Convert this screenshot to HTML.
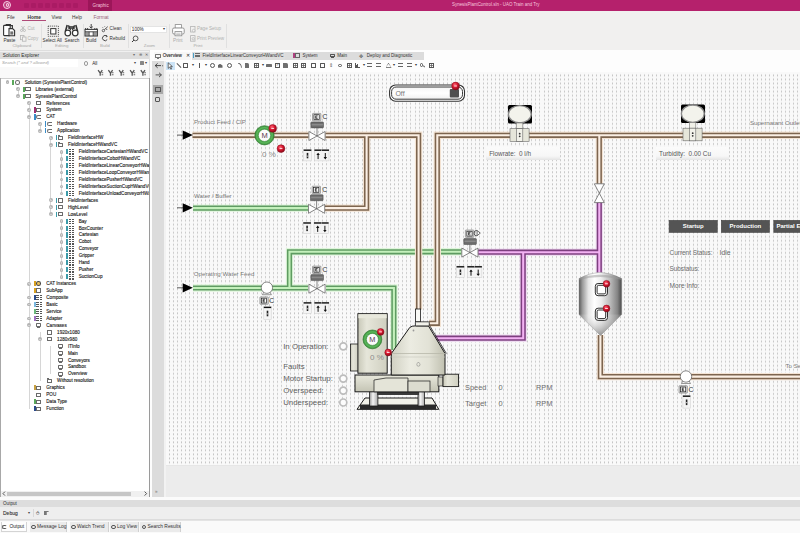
<!DOCTYPE html><html><head><meta charset="utf-8"><style>
*{margin:0;padding:0;box-sizing:border-box}
html,body{width:800px;height:533px;overflow:hidden;background:#f0f0f0;font-family:"Liberation Sans", sans-serif;position:relative}
</style></head><body><div style="position:absolute;left:0px;top:0px;width:800px;height:10.6px;background:#b5216c"></div>
<div style="position:absolute;left:88px;top:0px;width:24px;height:10.6px;background:#9c1659"></div>
<div style="position:absolute;left:92.6px;top:0.8px;height:9.2px;line-height:9.2px;font-size:4.6px;color:#f6c6de;white-space:pre;">Graphic</div>
<div style="position:absolute;left:452px;top:1.15px;height:8.9px;line-height:8.9px;font-size:4.45px;color:#f6c8df;white-space:pre;">SynesisPlantControl.sln - UAO Train and Try</div>
<div style="position:absolute;left:3px;top:0.8px;width:8.4px;height:8.4px;border-radius:50%;border:1.2px solid #f5d0e4;background:#c0407f"></div>
<div style="position:absolute;left:5.6px;top:3.2px;width:3.2px;height:3.6px;border-radius:50%;border:1px solid #f5d0e4"></div>
<div style="position:absolute;left:24px;top:2.8px;width:5px;height:5px;background:rgba(110,0,60,0.16);border-radius:1px"></div>
<div style="position:absolute;left:31px;top:2.8px;width:5px;height:5px;background:rgba(110,0,60,0.16);border-radius:1px"></div>
<div style="position:absolute;left:38px;top:2.8px;width:5px;height:5px;background:rgba(110,0,60,0.16);border-radius:1px"></div>
<div style="position:absolute;left:45px;top:2.8px;width:5px;height:5px;background:rgba(110,0,60,0.16);border-radius:1px"></div>
<div style="position:absolute;left:52px;top:2.8px;width:5px;height:5px;background:rgba(110,0,60,0.16);border-radius:1px"></div>
<div style="position:absolute;left:59px;top:2.8px;width:5px;height:5px;background:rgba(110,0,60,0.16);border-radius:1px"></div>
<div style="position:absolute;left:66px;top:2.8px;width:5px;height:5px;background:rgba(110,0,60,0.16);border-radius:1px"></div>
<div style="position:absolute;left:73px;top:2.8px;width:5px;height:5px;background:rgba(110,0,60,0.16);border-radius:1px"></div>
<div style="position:absolute;left:0px;top:10.6px;width:800px;height:0.8px;background:#f3d2e2"></div>
<div style="position:absolute;left:0px;top:11px;width:800px;height:39px;background:#f1f0ef"></div>
<div style="position:absolute;left:7px;top:12.6px;height:9.6px;line-height:9.6px;font-size:4.8px;color:#333;white-space:pre;">File</div>
<div style="position:absolute;left:27.5px;top:12.6px;height:9.6px;line-height:9.6px;font-size:4.8px;color:#333;white-space:pre;font-weight:bold;">Home</div>
<div style="position:absolute;left:51.5px;top:12.6px;height:9.6px;line-height:9.6px;font-size:4.8px;color:#333;white-space:pre;">View</div>
<div style="position:absolute;left:72px;top:12.6px;height:9.6px;line-height:9.6px;font-size:4.8px;color:#333;white-space:pre;">Help</div>
<div style="position:absolute;left:93.5px;top:12.6px;height:9.6px;line-height:9.6px;font-size:4.8px;color:#98607a;white-space:pre;">Format</div>
<div style="position:absolute;left:22px;top:20.3px;width:23.5px;height:0.9px;background:#b04a78"></div>
<div style="position:absolute;left:40.6px;top:23.5px;width:0.6px;height:24.5px;background:#e0e0e0"></div>
<div style="position:absolute;left:82.5px;top:23.5px;width:0.6px;height:24.5px;background:#e0e0e0"></div>
<div style="position:absolute;left:127.5px;top:23.5px;width:0.6px;height:24.5px;background:#e0e0e0"></div>
<div style="position:absolute;left:169px;top:23.5px;width:0.6px;height:24.5px;background:#e0e0e0"></div>
<div style="position:absolute;left:226px;top:23.5px;width:0.6px;height:24.5px;background:#e0e0e0"></div>
<div style="position:absolute;left:12.4px;top:42.3px;height:8.8px;line-height:8.8px;font-size:4.4px;color:#a8a8a8;white-space:pre;">Clipboard</div>
<div style="position:absolute;left:55px;top:42.3px;height:8.8px;line-height:8.8px;font-size:4.4px;color:#a8a8a8;white-space:pre;">Editing</div>
<div style="position:absolute;left:100px;top:42.3px;height:8.8px;line-height:8.8px;font-size:4.4px;color:#a8a8a8;white-space:pre;">Build</div>
<div style="position:absolute;left:143.8px;top:42.3px;height:8.8px;line-height:8.8px;font-size:4.4px;color:#a8a8a8;white-space:pre;">Zoom</div>
<div style="position:absolute;left:193.4px;top:42.3px;height:8.8px;line-height:8.8px;font-size:4.4px;color:#a8a8a8;white-space:pre;">Print</div>
<div style="position:absolute;left:3.4px;top:35.7px;height:9.4px;line-height:9.4px;font-size:4.7px;color:#333;white-space:pre;">Paste</div>
<div style="position:absolute;left:42.6px;top:35.7px;height:9.4px;line-height:9.4px;font-size:4.7px;color:#333;white-space:pre;">Select All</div>
<div style="position:absolute;left:64.6px;top:35.7px;height:9.4px;line-height:9.4px;font-size:4.7px;color:#333;white-space:pre;">Search</div>
<div style="position:absolute;left:86px;top:35.7px;height:9.4px;line-height:9.4px;font-size:4.7px;color:#333;white-space:pre;">Build</div>
<div style="position:absolute;left:173px;top:35.7px;height:9.4px;line-height:9.4px;font-size:4.7px;color:#aaa;white-space:pre;">Print</div>
<div style="position:absolute;left:27.5px;top:24.4px;height:9.2px;line-height:9.2px;font-size:4.6px;color:#b0b0b0;white-space:pre;">Cut</div>
<div style="position:absolute;left:27.5px;top:34px;height:9.2px;line-height:9.2px;font-size:4.6px;color:#b0b0b0;white-space:pre;">Copy</div>
<div style="position:absolute;left:109.6px;top:24.4px;height:9.2px;line-height:9.2px;font-size:4.6px;color:#333;white-space:pre;">Clean</div>
<div style="position:absolute;left:109.6px;top:33.7px;height:9.2px;line-height:9.2px;font-size:4.6px;color:#333;white-space:pre;">Rebuild</div>
<div style="position:absolute;left:197px;top:24.4px;height:9.2px;line-height:9.2px;font-size:4.6px;color:#b0b0b0;white-space:pre;">Page Setup</div>
<div style="position:absolute;left:197px;top:33.7px;height:9.2px;line-height:9.2px;font-size:4.6px;color:#b0b0b0;white-space:pre;">Print Preview</div>
<div style="position:absolute;left:130px;top:26px;width:36.5px;height:6.6px;background:#fff;border:0.5px solid #e4e4e4"></div>
<div style="position:absolute;left:131.8px;top:24.6px;height:9.4px;line-height:9.4px;font-size:4.7px;color:#222;white-space:pre;">100%</div>
<div style="position:absolute;left:162.5px;top:24.9px;height:8.8px;line-height:8.8px;font-size:4.4px;color:#333;white-space:pre;">▾</div>
<div style="position:absolute;left:0px;top:49.5px;width:800px;height:1px;background:#dedede"></div>
<svg style="position:absolute;left:0;top:0" width="230" height="50"><path d="M4.2,25.6 h2 v-1 h4.2 v1 h2 v3" fill="none" stroke="#333" stroke-width="1.1"/><rect x="3.6" y="25.4" width="6.6" height="10.2" rx="0.8" fill="#fff" stroke="#333" stroke-width="1.1"/><rect x="6.6" y="24" width="3.4" height="1.8" rx="0.5" fill="#333"/><path d="M9,28.6 h3.6 l2,2 v5.2 h-5.6 z" fill="#fff" stroke="#333" stroke-width="1.1"/><rect x="10.3" y="31.4" width="3" height="3.2" fill="#333" opacity="0.7"/><circle cx="21.6" cy="30.4" r="1.1" fill="none" stroke="#b4b4b4" stroke-width="0.8"/><circle cx="24.4" cy="30.4" r="1.1" fill="none" stroke="#b4b4b4" stroke-width="0.8"/><path d="M21.8,29.3 L24.6,26 M24.2,29.3 L21.4,26" stroke="#b4b4b4" stroke-width="0.8"/><rect x="20.4" y="35.5" width="3.6" height="4.2" fill="none" stroke="#b4b4b4" stroke-width="0.8"/><rect x="22.4" y="37" width="3.6" height="4.2" fill="#f3f2f1" stroke="#b4b4b4" stroke-width="0.8"/><rect x="48.2" y="26.1" width="10.2" height="10.2" fill="none" stroke="#333" stroke-width="0.9" stroke-dasharray="1 1"/><rect x="50.7" y="28.6" width="5.2" height="5.4" fill="#fff" stroke="#333" stroke-width="1"/><path d="M67.2,25 L65.4,31.5 M75.8,25 L77.6,31.5" stroke="#333" stroke-width="1.6"/><path d="M68.5,25.2 L70.6,30 M74.5,25.2 L72.4,30" stroke="#333" stroke-width="1.2"/><circle cx="67.8" cy="33" r="2.8" fill="#fff" stroke="#333" stroke-width="1.2"/><circle cx="75.2" cy="33" r="2.8" fill="#fff" stroke="#333" stroke-width="1.2"/><rect x="68.2" y="26" width="6.6" height="3" fill="#333" opacity="0.8"/><path d="M91.2,24 v4 M89.6,26.6 l1.6,1.6 l1.6,-1.6" fill="none" stroke="#333" stroke-width="0.9"/><rect x="85" y="29.4" width="12.4" height="6.6" fill="#fff" stroke="#333" stroke-width="1"/><path d="M85,31.8 h12.4 M89.1,31.8 v4.2 M93.2,31.8 v4.2" stroke="#333" stroke-width="0.9"/><path d="M85.6,29.4 v-1.4 M87.6,29.4 v-1.4 M94.8,29.4 v-1.4 M96.8,29.4 v-1.4" stroke="#333" stroke-width="0.9"/><rect x="85.4" y="32.2" width="3.3" height="3.4" fill="#333" opacity="0.5"/><rect x="93.6" y="32.2" width="3.3" height="3.4" fill="#333" opacity="0.5"/><circle cx="103.4" cy="30.6" r="1.2" fill="none" stroke="#333" stroke-width="0.7"/><path d="M104.3,29.8 L107.8,26.6 M106,28.6 l1.2,1.4" stroke="#333" stroke-width="0.8"/><path d="M102.4,28 l0.6,-0.9 M104.6,27 l0.3,-0.9" stroke="#333" stroke-width="0.5"/><path d="M106.9,36.2 A2.6,2.6 0 1 0 107.2,39.6" fill="none" stroke="#333" stroke-width="0.9"/><path d="M106,35.2 l1.4,1.2 l-1.6,0.6" fill="none" stroke="#333" stroke-width="0.7"/><circle cx="135.6" cy="38.4" r="2.4" fill="none" stroke="#333" stroke-width="0.8"/><path d="M133.9,40.1 L132,42" stroke="#333" stroke-width="1"/><rect x="175.2" y="24.6" width="6.4" height="3.6" fill="#fff" stroke="#8a8a8a" stroke-width="0.8"/><rect x="172.6" y="28" width="11.6" height="6" rx="1.4" fill="#fff" stroke="#8a8a8a" stroke-width="0.9"/><rect x="175" y="31.6" width="6.8" height="4.2" fill="#fff" stroke="#8a8a8a" stroke-width="0.8"/><path d="M176.2,33.2 h4.4 M176.2,34.5 h4.4" stroke="#8a8a8a" stroke-width="0.5"/><rect x="190.6" y="26.4" width="4.4" height="5.6" fill="none" stroke="#b4b4b4" stroke-width="0.8"/><circle cx="193.6" cy="30.6" r="1.3" fill="#f3f2f1" stroke="#b4b4b4" stroke-width="0.7"/><rect x="190.6" y="35.6" width="4.4" height="5.6" fill="none" stroke="#b4b4b4" stroke-width="0.8"/><circle cx="193.2" cy="38.8" r="1.2" fill="#f3f2f1" stroke="#b4b4b4" stroke-width="0.7"/></svg>
<div style="position:absolute;left:0px;top:51px;width:150px;height:447px;background:#f0f0f0"></div>
<div style="position:absolute;left:0px;top:51.6px;width:149px;height:7px;background:#dddddd"></div>
<div style="position:absolute;left:0px;top:58.6px;width:149px;height:19px;background:#f9f9f9"></div>
<div style="position:absolute;left:2.8px;top:50.65px;height:9.5px;line-height:9.5px;font-size:4.75px;color:#2a2a2a;white-space:pre;">Solution Explorer</div>
<div style="position:absolute;left:132.5px;top:51.4px;height:8.4px;line-height:8.4px;font-size:4.2px;color:#6a6a6a;white-space:pre;">▾</div>
<div style="position:absolute;left:138.6px;top:51.2px;height:8.8px;line-height:8.8px;font-size:4.4px;color:#666;white-space:pre;">⊕</div>
<div style="position:absolute;left:144.6px;top:51.4px;height:8.4px;line-height:8.4px;font-size:4.2px;color:#555;white-space:pre;">✕</div>
<div style="position:absolute;left:0px;top:59.3px;width:78px;height:7.6px;background:#fff"></div>
<div style="position:absolute;left:2px;top:58.8px;height:8.6px;line-height:8.6px;font-size:4.3px;color:#a0a0a0;white-space:pre;font-style:italic">Search (* and ? allowed)</div>
<div style="position:absolute;left:83.8px;top:61px;width:4.5px;height:4.5px;border:0.7px solid #999;border-radius:50%"></div>
<div style="position:absolute;left:92.2px;top:58.5px;height:9.2px;line-height:9.2px;font-size:4.6px;color:#222;white-space:pre;">All</div>
<div style="position:absolute;left:133.5px;top:58.9px;height:8.4px;line-height:8.4px;font-size:4.2px;color:#444;white-space:pre;">▾</div>
<div style="position:absolute;left:139.5px;top:60.8px;width:4px;height:4.6px;background:#888;border-radius:0.6px"></div>
<div style="position:absolute;left:145px;top:59.6px;height:7px;line-height:7px;font-size:3.5px;color:#444;white-space:pre;">▾</div>
<svg style="position:absolute;left:0;top:0" width="150" height="80"><path d="M98.1,70.2 L100.2,73.2 L102.3,70.2 M100.2,73 L100.2,75.8" fill="none" stroke="#555" stroke-width="1.3"/><path d="M101.6,72.2 l1.6,0 l0,1 l-1.6,0 z M101.6,74.2 l1.6,0 l0,1 l-1.6,0 z" fill="#666"/><path d="M108.4,70.2 L110.5,73.2 L112.6,70.2 M110.5,73 L110.5,75.8" fill="none" stroke="#555" stroke-width="1.3"/><path d="M111.9,72.2 l1.6,0 l0,1 l-1.6,0 z M111.9,74.2 l1.6,0 l0,1 l-1.6,0 z" fill="#666"/><path d="M119.1,70.2 L121.2,73.2 L123.3,70.2 M121.2,73 L121.2,75.8" fill="none" stroke="#555" stroke-width="1.3"/><path d="M122.6,72.2 l1.6,0 l0,1 l-1.6,0 z M122.6,74.2 l1.6,0 l0,1 l-1.6,0 z" fill="#666"/><path d="M130.1,70.2 L132.2,73.2 L134.3,70.2 M132.2,73 L132.2,75.8" fill="none" stroke="#555" stroke-width="1.3"/><path d="M133.6,72.2 l1.6,0 l0,1 l-1.6,0 z M133.6,74.2 l1.6,0 l0,1 l-1.6,0 z" fill="#666"/><path d="M140.8,70.2 L142.9,73.2 L145.0,70.2 M142.9,73 L142.9,75.8" fill="none" stroke="#555" stroke-width="1.3"/><path d="M144.3,72.2 l1.6,0 l0,1 l-1.6,0 z M144.3,74.2 l1.6,0 l0,1 l-1.6,0 z" fill="#666"/></svg>
<div style="position:absolute;left:0px;top:77.5px;width:149px;height:414px;background:#fff;border-top:0.6px solid #d0d0d0"></div>
<div style="position:absolute;left:0px;top:491px;width:149px;height:6px;background:#f0f0f0"></div>
<div style="position:absolute;left:7.2px;top:491.8px;width:123.5px;height:4.3px;background:#c6c6c6"></div>
<svg style="position:absolute;left:0;top:488px" width="150" height="10"><path d="M5,3.6 L3,5.6 L5,7.6" fill="none" stroke="#444" stroke-width="0.9"/><path d="M144.6,3.6 L146.6,5.6 L144.6,7.6" fill="none" stroke="#444" stroke-width="0.9"/></svg>
<div style="position:absolute;left:0;top:78px;width:148.6px;height:413px;overflow:hidden">
<div style="position:absolute;left:18px;top:11.25px;width:0.7px;height:6.94px;background:#d6d6d6"></div>
<div style="position:absolute;left:28.8px;top:25.13px;width:0.7px;height:305.58px;background:#d6d6d6"></div>
<div style="position:absolute;left:39.6px;top:45.97px;width:0.7px;height:6.94px;background:#d6d6d6"></div>
<div style="position:absolute;left:50.4px;top:59.86px;width:0.7px;height:76.39px;background:#d6d6d6"></div>
<div style="position:absolute;left:61.2px;top:73.75px;width:0.7px;height:41.67px;background:#d6d6d6"></div>
<div style="position:absolute;left:61.2px;top:143.2px;width:0.7px;height:55.56px;background:#d6d6d6"></div>
<div style="position:absolute;left:39.6px;top:254.32px;width:0.7px;height:48.62px;background:#d6d6d6"></div>
<div style="position:absolute;left:50.4px;top:268.21px;width:0.7px;height:27.78px;background:#d6d6d6"></div>
<div style="position:absolute;left:5.6px;top:2.4px;width:3.8px;height:3.8px;border-radius:50%;background:#b4b4b4"></div>
<div style="position:absolute;left:6.6px;top:4.08px;width:1.8px;height:0.44px;background:#d0d0d0"></div>
<div style="position:absolute;left:12.3px;top:1.7px;width:1.7px;height:5.2px;background:#5aa85a"></div>
<div style="position:absolute;left:14.6px;top:1.9px;width:5.2px;height:4.8px;border:1.3px solid #666;border-radius:50%"></div>
<div style="position:absolute;left:24.7px;top:-0.3px;height:9.2px;line-height:9.2px;font-size:4.6px;color:#1a1a1a;white-space:pre;-webkit-text-stroke:0.12px #1a1a1a">Solution (SynesisPlantControl)</div>
<div style="position:absolute;left:16.4px;top:9.34px;width:3.8px;height:3.8px;border-radius:50%;background:#b4b4b4"></div>
<div style="position:absolute;left:17.4px;top:11.03px;width:1.8px;height:0.44px;background:#d0d0d0"></div>
<div style="position:absolute;left:18.08px;top:10.34px;width:0.44px;height:1.8px;background:#d0d0d0"></div>
<div style="position:absolute;left:23.1px;top:8.65px;width:1.7px;height:5.2px;background:#5aa85a"></div>
<div style="position:absolute;left:25.4px;top:9.25px;width:5.2px;height:4.2px;border:0.7px solid #6a6a6a;border-radius:0.5px;background:#fff"></div>
<div style="position:absolute;left:25.4px;top:8.65px;width:2.4px;height:1px;border:0.6px solid #6a6a6a;border-bottom:none"></div>
<div style="position:absolute;left:35.5px;top:6.65px;height:9.2px;line-height:9.2px;font-size:4.6px;color:#1a1a1a;white-space:pre;-webkit-text-stroke:0.12px #1a1a1a">Libraries (external)</div>
<div style="position:absolute;left:16.4px;top:16.29px;width:3.8px;height:3.8px;border-radius:50%;background:#b4b4b4"></div>
<div style="position:absolute;left:17.4px;top:17.97px;width:1.8px;height:0.44px;background:#d0d0d0"></div>
<div style="position:absolute;left:23.1px;top:15.59px;width:1.7px;height:5.2px;background:#5aa85a"></div>
<div style="position:absolute;left:25.4px;top:16.19px;width:5.2px;height:4.2px;border:0.7px solid #6a6a6a;border-radius:0.5px;background:#fff"></div>
<div style="position:absolute;left:25.4px;top:15.59px;width:2.4px;height:1px;border:0.6px solid #6a6a6a;border-bottom:none"></div>
<div style="position:absolute;left:35.5px;top:13.59px;height:9.2px;line-height:9.2px;font-size:4.6px;color:#1a1a1a;white-space:pre;-webkit-text-stroke:0.12px #1a1a1a">SynesisPlantControl</div>
<div style="position:absolute;left:27.2px;top:23.23px;width:3.8px;height:3.8px;border-radius:50%;background:#b4b4b4"></div>
<div style="position:absolute;left:28.2px;top:24.91px;width:1.8px;height:0.44px;background:#d0d0d0"></div>
<div style="position:absolute;left:28.88px;top:24.23px;width:0.44px;height:1.8px;background:#d0d0d0"></div>
<div style="position:absolute;left:36.2px;top:22.93px;width:5px;height:4.4px;border:0.7px solid #6a6a6a"></div>
<div style="position:absolute;left:46.3px;top:20.53px;height:9.2px;line-height:9.2px;font-size:4.6px;color:#1a1a1a;white-space:pre;-webkit-text-stroke:0.12px #1a1a1a">References</div>
<div style="position:absolute;left:27.2px;top:30.18px;width:3.8px;height:3.8px;border-radius:50%;background:#b4b4b4"></div>
<div style="position:absolute;left:28.2px;top:31.86px;width:1.8px;height:0.44px;background:#d0d0d0"></div>
<div style="position:absolute;left:28.88px;top:31.18px;width:0.44px;height:1.8px;background:#d0d0d0"></div>
<div style="position:absolute;left:33.9px;top:29.48px;width:1.7px;height:5.2px;background:#a03070"></div>
<div style="position:absolute;left:36.2px;top:29.88px;width:5px;height:4.4px;border:0.7px solid #6a6a6a"></div>
<div style="position:absolute;left:46.3px;top:27.48px;height:9.2px;line-height:9.2px;font-size:4.6px;color:#1a1a1a;white-space:pre;-webkit-text-stroke:0.12px #1a1a1a">System</div>
<div style="position:absolute;left:27.2px;top:37.12px;width:3.8px;height:3.8px;border-radius:50%;background:#b4b4b4"></div>
<div style="position:absolute;left:28.2px;top:38.81px;width:1.8px;height:0.44px;background:#d0d0d0"></div>
<div style="position:absolute;left:33.9px;top:36.43px;width:1.7px;height:5.2px;background:#3a8cc8"></div>
<div style="position:absolute;left:36.2px;top:36.62px;width:5px;height:4.8px;border:0.8px solid #6a6a6a;border-radius:50% 0 0 50%;border-right:none"></div>
<div style="position:absolute;left:46.3px;top:34.43px;height:9.2px;line-height:9.2px;font-size:4.6px;color:#1a1a1a;white-space:pre;-webkit-text-stroke:0.12px #1a1a1a">CAT</div>
<div style="position:absolute;left:38px;top:44.07px;width:3.8px;height:3.8px;border-radius:50%;background:#b4b4b4"></div>
<div style="position:absolute;left:39px;top:45.75px;width:1.8px;height:0.44px;background:#d0d0d0"></div>
<div style="position:absolute;left:39.68px;top:45.07px;width:0.44px;height:1.8px;background:#d0d0d0"></div>
<div style="position:absolute;left:44.7px;top:43.37px;width:1.7px;height:5.2px;background:#3a8cc8"></div>
<div style="position:absolute;left:47px;top:43.57px;width:5px;height:4.8px;border:0.8px solid #6a6a6a;border-radius:50% 0 0 50%;border-right:none"></div>
<div style="position:absolute;left:57.1px;top:41.37px;height:9.2px;line-height:9.2px;font-size:4.6px;color:#1a1a1a;white-space:pre;-webkit-text-stroke:0.12px #1a1a1a">Hardware</div>
<div style="position:absolute;left:38px;top:51.01px;width:3.8px;height:3.8px;border-radius:50%;background:#b4b4b4"></div>
<div style="position:absolute;left:39px;top:52.69px;width:1.8px;height:0.44px;background:#d0d0d0"></div>
<div style="position:absolute;left:44.7px;top:50.31px;width:1.7px;height:5.2px;background:#3a8cc8"></div>
<div style="position:absolute;left:47px;top:50.51px;width:5px;height:4.8px;border:0.8px solid #6a6a6a;border-radius:50% 0 0 50%;border-right:none"></div>
<div style="position:absolute;left:57.1px;top:48.31px;height:9.2px;line-height:9.2px;font-size:4.6px;color:#1a1a1a;white-space:pre;-webkit-text-stroke:0.12px #1a1a1a">Application</div>
<div style="position:absolute;left:48.8px;top:57.96px;width:3.8px;height:3.8px;border-radius:50%;background:#b4b4b4"></div>
<div style="position:absolute;left:49.8px;top:59.64px;width:1.8px;height:0.44px;background:#d0d0d0"></div>
<div style="position:absolute;left:50.48px;top:58.96px;width:0.44px;height:1.8px;background:#d0d0d0"></div>
<div style="position:absolute;left:55.5px;top:57.26px;width:1.7px;height:5.2px;background:#3a9aa8"></div>
<div style="position:absolute;left:57.8px;top:57.86px;width:5.2px;height:4.2px;border:0.7px solid #6a6a6a;border-radius:0.5px;background:#fff"></div>
<div style="position:absolute;left:57.8px;top:57.26px;width:2.4px;height:1px;border:0.6px solid #6a6a6a;border-bottom:none"></div>
<div style="position:absolute;left:67.9px;top:55.26px;height:9.2px;line-height:9.2px;font-size:4.6px;color:#1a1a1a;white-space:pre;-webkit-text-stroke:0.12px #1a1a1a">FieldInterfaceHW</div>
<div style="position:absolute;left:48.8px;top:64.91px;width:3.8px;height:3.8px;border-radius:50%;background:#b4b4b4"></div>
<div style="position:absolute;left:49.8px;top:66.59px;width:1.8px;height:0.44px;background:#d0d0d0"></div>
<div style="position:absolute;left:55.5px;top:64.21px;width:1.7px;height:5.2px;background:#3a9aa8"></div>
<div style="position:absolute;left:57.8px;top:64.81px;width:5.2px;height:4.2px;border:0.7px solid #6a6a6a;border-radius:0.5px;background:#fff"></div>
<div style="position:absolute;left:57.8px;top:64.21px;width:2.4px;height:1px;border:0.6px solid #6a6a6a;border-bottom:none"></div>
<div style="position:absolute;left:67.9px;top:62.21px;height:9.2px;line-height:9.2px;font-size:4.6px;color:#1a1a1a;white-space:pre;-webkit-text-stroke:0.12px #1a1a1a">FieldInterfaceHWandVC</div>
<div style="position:absolute;left:59.6px;top:71.85px;width:3.8px;height:3.8px;border-radius:50%;background:#b4b4b4"></div>
<div style="position:absolute;left:60.6px;top:73.53px;width:1.8px;height:0.44px;background:#d0d0d0"></div>
<div style="position:absolute;left:61.28px;top:72.85px;width:0.44px;height:1.8px;background:#d0d0d0"></div>
<div style="position:absolute;left:66.3px;top:71.15px;width:1.7px;height:5.2px;background:#3a9aa8"></div>
<div style="position:absolute;left:68.6px;top:71.15px;width:5.4px;height:5.4px;background:repeating-linear-gradient(#555 0 1.1px,#fff 1.1px 1.8px)"></div>
<div style="position:absolute;left:70.9px;top:71.15px;width:0.6px;height:5.4px;background:#fff"></div>
<div style="position:absolute;left:78.7px;top:69.15px;height:9.2px;line-height:9.2px;font-size:4.6px;color:#1a1a1a;white-space:pre;-webkit-text-stroke:0.12px #1a1a1a">FieldInterfaceCartesianHWandVC</div>
<div style="position:absolute;left:59.6px;top:78.79px;width:3.8px;height:3.8px;border-radius:50%;background:#b4b4b4"></div>
<div style="position:absolute;left:60.6px;top:80.47px;width:1.8px;height:0.44px;background:#d0d0d0"></div>
<div style="position:absolute;left:61.28px;top:79.79px;width:0.44px;height:1.8px;background:#d0d0d0"></div>
<div style="position:absolute;left:66.3px;top:78.09px;width:1.7px;height:5.2px;background:#3a9aa8"></div>
<div style="position:absolute;left:68.6px;top:78.09px;width:5.4px;height:5.4px;background:repeating-linear-gradient(#555 0 1.1px,#fff 1.1px 1.8px)"></div>
<div style="position:absolute;left:70.9px;top:78.09px;width:0.6px;height:5.4px;background:#fff"></div>
<div style="position:absolute;left:78.7px;top:76.09px;height:9.2px;line-height:9.2px;font-size:4.6px;color:#1a1a1a;white-space:pre;-webkit-text-stroke:0.12px #1a1a1a">FieldInterfaceCobotHWandVC</div>
<div style="position:absolute;left:59.6px;top:85.74px;width:3.8px;height:3.8px;border-radius:50%;background:#b4b4b4"></div>
<div style="position:absolute;left:60.6px;top:87.42px;width:1.8px;height:0.44px;background:#d0d0d0"></div>
<div style="position:absolute;left:61.28px;top:86.74px;width:0.44px;height:1.8px;background:#d0d0d0"></div>
<div style="position:absolute;left:66.3px;top:85.04px;width:1.7px;height:5.2px;background:#3a9aa8"></div>
<div style="position:absolute;left:68.6px;top:85.04px;width:5.4px;height:5.4px;background:repeating-linear-gradient(#555 0 1.1px,#fff 1.1px 1.8px)"></div>
<div style="position:absolute;left:70.9px;top:85.04px;width:0.6px;height:5.4px;background:#fff"></div>
<div style="position:absolute;left:78.7px;top:83.04px;height:9.2px;line-height:9.2px;font-size:4.6px;color:#1a1a1a;white-space:pre;-webkit-text-stroke:0.12px #1a1a1a">FieldInterfaceLinearConveyorHWandVC</div>
<div style="position:absolute;left:59.6px;top:92.68px;width:3.8px;height:3.8px;border-radius:50%;background:#b4b4b4"></div>
<div style="position:absolute;left:60.6px;top:94.36px;width:1.8px;height:0.44px;background:#d0d0d0"></div>
<div style="position:absolute;left:61.28px;top:93.68px;width:0.44px;height:1.8px;background:#d0d0d0"></div>
<div style="position:absolute;left:66.3px;top:91.98px;width:1.7px;height:5.2px;background:#3a9aa8"></div>
<div style="position:absolute;left:68.6px;top:91.98px;width:5.4px;height:5.4px;background:repeating-linear-gradient(#555 0 1.1px,#fff 1.1px 1.8px)"></div>
<div style="position:absolute;left:70.9px;top:91.98px;width:0.6px;height:5.4px;background:#fff"></div>
<div style="position:absolute;left:78.7px;top:89.98px;height:9.2px;line-height:9.2px;font-size:4.6px;color:#1a1a1a;white-space:pre;-webkit-text-stroke:0.12px #1a1a1a">FieldInterfaceLoopConveyorHWandVC</div>
<div style="position:absolute;left:59.6px;top:99.63px;width:3.8px;height:3.8px;border-radius:50%;background:#b4b4b4"></div>
<div style="position:absolute;left:60.6px;top:101.31px;width:1.8px;height:0.44px;background:#d0d0d0"></div>
<div style="position:absolute;left:61.28px;top:100.63px;width:0.44px;height:1.8px;background:#d0d0d0"></div>
<div style="position:absolute;left:66.3px;top:98.93px;width:1.7px;height:5.2px;background:#3a9aa8"></div>
<div style="position:absolute;left:68.6px;top:98.93px;width:5.4px;height:5.4px;background:repeating-linear-gradient(#555 0 1.1px,#fff 1.1px 1.8px)"></div>
<div style="position:absolute;left:70.9px;top:98.93px;width:0.6px;height:5.4px;background:#fff"></div>
<div style="position:absolute;left:78.7px;top:96.93px;height:9.2px;line-height:9.2px;font-size:4.6px;color:#1a1a1a;white-space:pre;-webkit-text-stroke:0.12px #1a1a1a">FieldInterfacePusherHWandVC</div>
<div style="position:absolute;left:59.6px;top:106.58px;width:3.8px;height:3.8px;border-radius:50%;background:#b4b4b4"></div>
<div style="position:absolute;left:60.6px;top:108.26px;width:1.8px;height:0.44px;background:#d0d0d0"></div>
<div style="position:absolute;left:61.28px;top:107.58px;width:0.44px;height:1.8px;background:#d0d0d0"></div>
<div style="position:absolute;left:66.3px;top:105.88px;width:1.7px;height:5.2px;background:#3a9aa8"></div>
<div style="position:absolute;left:68.6px;top:105.88px;width:5.4px;height:5.4px;background:repeating-linear-gradient(#555 0 1.1px,#fff 1.1px 1.8px)"></div>
<div style="position:absolute;left:70.9px;top:105.88px;width:0.6px;height:5.4px;background:#fff"></div>
<div style="position:absolute;left:78.7px;top:103.88px;height:9.2px;line-height:9.2px;font-size:4.6px;color:#1a1a1a;white-space:pre;-webkit-text-stroke:0.12px #1a1a1a">FieldInterfaceSuctionCupHWandVC</div>
<div style="position:absolute;left:59.6px;top:113.52px;width:3.8px;height:3.8px;border-radius:50%;background:#b4b4b4"></div>
<div style="position:absolute;left:60.6px;top:115.2px;width:1.8px;height:0.44px;background:#d0d0d0"></div>
<div style="position:absolute;left:61.28px;top:114.52px;width:0.44px;height:1.8px;background:#d0d0d0"></div>
<div style="position:absolute;left:66.3px;top:112.82px;width:1.7px;height:5.2px;background:#3a9aa8"></div>
<div style="position:absolute;left:68.6px;top:112.82px;width:5.4px;height:5.4px;background:repeating-linear-gradient(#555 0 1.1px,#fff 1.1px 1.8px)"></div>
<div style="position:absolute;left:70.9px;top:112.82px;width:0.6px;height:5.4px;background:#fff"></div>
<div style="position:absolute;left:78.7px;top:110.82px;height:9.2px;line-height:9.2px;font-size:4.6px;color:#1a1a1a;white-space:pre;-webkit-text-stroke:0.12px #1a1a1a">FieldInterfaceUnloadConveyorHWandVC</div>
<div style="position:absolute;left:48.8px;top:120.47px;width:3.8px;height:3.8px;border-radius:50%;background:#b4b4b4"></div>
<div style="position:absolute;left:49.8px;top:122.15px;width:1.8px;height:0.44px;background:#d0d0d0"></div>
<div style="position:absolute;left:50.48px;top:121.47px;width:0.44px;height:1.8px;background:#d0d0d0"></div>
<div style="position:absolute;left:55.5px;top:119.77px;width:1.7px;height:5.2px;background:#3a9aa8"></div>
<div style="position:absolute;left:57.8px;top:120.37px;width:5.2px;height:4.2px;border:0.7px solid #6a6a6a;border-radius:0.5px;background:#fff"></div>
<div style="position:absolute;left:57.8px;top:119.77px;width:2.4px;height:1px;border:0.6px solid #6a6a6a;border-bottom:none"></div>
<div style="position:absolute;left:67.9px;top:117.77px;height:9.2px;line-height:9.2px;font-size:4.6px;color:#1a1a1a;white-space:pre;-webkit-text-stroke:0.12px #1a1a1a">FieldInterfaces</div>
<div style="position:absolute;left:48.8px;top:127.41px;width:3.8px;height:3.8px;border-radius:50%;background:#b4b4b4"></div>
<div style="position:absolute;left:49.8px;top:129.09px;width:1.8px;height:0.44px;background:#d0d0d0"></div>
<div style="position:absolute;left:50.48px;top:128.41px;width:0.44px;height:1.8px;background:#d0d0d0"></div>
<div style="position:absolute;left:55.5px;top:126.71px;width:1.7px;height:5.2px;background:#3a9aa8"></div>
<div style="position:absolute;left:57.8px;top:127.31px;width:5.2px;height:4.2px;border:0.7px solid #6a6a6a;border-radius:0.5px;background:#fff"></div>
<div style="position:absolute;left:57.8px;top:126.71px;width:2.4px;height:1px;border:0.6px solid #6a6a6a;border-bottom:none"></div>
<div style="position:absolute;left:67.9px;top:124.71px;height:9.2px;line-height:9.2px;font-size:4.6px;color:#1a1a1a;white-space:pre;-webkit-text-stroke:0.12px #1a1a1a">HighLevel</div>
<div style="position:absolute;left:48.8px;top:134.35px;width:3.8px;height:3.8px;border-radius:50%;background:#b4b4b4"></div>
<div style="position:absolute;left:49.8px;top:136.03px;width:1.8px;height:0.44px;background:#d0d0d0"></div>
<div style="position:absolute;left:55.5px;top:133.66px;width:1.7px;height:5.2px;background:#3a9aa8"></div>
<div style="position:absolute;left:57.8px;top:134.25px;width:5.2px;height:4.2px;border:0.7px solid #6a6a6a;border-radius:0.5px;background:#fff"></div>
<div style="position:absolute;left:57.8px;top:133.66px;width:2.4px;height:1px;border:0.6px solid #6a6a6a;border-bottom:none"></div>
<div style="position:absolute;left:67.9px;top:131.66px;height:9.2px;line-height:9.2px;font-size:4.6px;color:#1a1a1a;white-space:pre;-webkit-text-stroke:0.12px #1a1a1a">LowLevel</div>
<div style="position:absolute;left:59.6px;top:141.3px;width:3.8px;height:3.8px;border-radius:50%;background:#b4b4b4"></div>
<div style="position:absolute;left:60.6px;top:142.98px;width:1.8px;height:0.44px;background:#d0d0d0"></div>
<div style="position:absolute;left:61.28px;top:142.3px;width:0.44px;height:1.8px;background:#d0d0d0"></div>
<div style="position:absolute;left:66.3px;top:140.6px;width:1.7px;height:5.2px;background:#3a9aa8"></div>
<div style="position:absolute;left:68.6px;top:140.6px;width:5.4px;height:5.4px;background:repeating-linear-gradient(#555 0 1.1px,#fff 1.1px 1.8px)"></div>
<div style="position:absolute;left:70.9px;top:140.6px;width:0.6px;height:5.4px;background:#fff"></div>
<div style="position:absolute;left:78.7px;top:138.6px;height:9.2px;line-height:9.2px;font-size:4.6px;color:#1a1a1a;white-space:pre;-webkit-text-stroke:0.12px #1a1a1a">Bay</div>
<div style="position:absolute;left:59.6px;top:148.24px;width:3.8px;height:3.8px;border-radius:50%;background:#b4b4b4"></div>
<div style="position:absolute;left:60.6px;top:149.92px;width:1.8px;height:0.44px;background:#d0d0d0"></div>
<div style="position:absolute;left:61.28px;top:149.24px;width:0.44px;height:1.8px;background:#d0d0d0"></div>
<div style="position:absolute;left:66.3px;top:147.54px;width:1.7px;height:5.2px;background:#3a9aa8"></div>
<div style="position:absolute;left:68.6px;top:147.54px;width:5.4px;height:5.4px;background:repeating-linear-gradient(#555 0 1.1px,#fff 1.1px 1.8px)"></div>
<div style="position:absolute;left:70.9px;top:147.54px;width:0.6px;height:5.4px;background:#fff"></div>
<div style="position:absolute;left:78.7px;top:145.54px;height:9.2px;line-height:9.2px;font-size:4.6px;color:#1a1a1a;white-space:pre;-webkit-text-stroke:0.12px #1a1a1a">BoxCounter</div>
<div style="position:absolute;left:59.6px;top:155.19px;width:3.8px;height:3.8px;border-radius:50%;background:#b4b4b4"></div>
<div style="position:absolute;left:60.6px;top:156.87px;width:1.8px;height:0.44px;background:#d0d0d0"></div>
<div style="position:absolute;left:61.28px;top:156.19px;width:0.44px;height:1.8px;background:#d0d0d0"></div>
<div style="position:absolute;left:66.3px;top:154.49px;width:1.7px;height:5.2px;background:#3a9aa8"></div>
<div style="position:absolute;left:68.6px;top:154.49px;width:5.4px;height:5.4px;background:repeating-linear-gradient(#555 0 1.1px,#fff 1.1px 1.8px)"></div>
<div style="position:absolute;left:70.9px;top:154.49px;width:0.6px;height:5.4px;background:#fff"></div>
<div style="position:absolute;left:78.7px;top:152.49px;height:9.2px;line-height:9.2px;font-size:4.6px;color:#1a1a1a;white-space:pre;-webkit-text-stroke:0.12px #1a1a1a">Cartesian</div>
<div style="position:absolute;left:59.6px;top:162.14px;width:3.8px;height:3.8px;border-radius:50%;background:#b4b4b4"></div>
<div style="position:absolute;left:60.6px;top:163.82px;width:1.8px;height:0.44px;background:#d0d0d0"></div>
<div style="position:absolute;left:61.28px;top:163.14px;width:0.44px;height:1.8px;background:#d0d0d0"></div>
<div style="position:absolute;left:66.3px;top:161.44px;width:1.7px;height:5.2px;background:#3a9aa8"></div>
<div style="position:absolute;left:68.6px;top:161.44px;width:5.4px;height:5.4px;background:repeating-linear-gradient(#555 0 1.1px,#fff 1.1px 1.8px)"></div>
<div style="position:absolute;left:70.9px;top:161.44px;width:0.6px;height:5.4px;background:#fff"></div>
<div style="position:absolute;left:78.7px;top:159.44px;height:9.2px;line-height:9.2px;font-size:4.6px;color:#1a1a1a;white-space:pre;-webkit-text-stroke:0.12px #1a1a1a">Cobot</div>
<div style="position:absolute;left:59.6px;top:169.08px;width:3.8px;height:3.8px;border-radius:50%;background:#b4b4b4"></div>
<div style="position:absolute;left:60.6px;top:170.76px;width:1.8px;height:0.44px;background:#d0d0d0"></div>
<div style="position:absolute;left:61.28px;top:170.08px;width:0.44px;height:1.8px;background:#d0d0d0"></div>
<div style="position:absolute;left:66.3px;top:168.38px;width:1.7px;height:5.2px;background:#3a9aa8"></div>
<div style="position:absolute;left:68.6px;top:168.38px;width:5.4px;height:5.4px;background:repeating-linear-gradient(#555 0 1.1px,#fff 1.1px 1.8px)"></div>
<div style="position:absolute;left:70.9px;top:168.38px;width:0.6px;height:5.4px;background:#fff"></div>
<div style="position:absolute;left:78.7px;top:166.38px;height:9.2px;line-height:9.2px;font-size:4.6px;color:#1a1a1a;white-space:pre;-webkit-text-stroke:0.12px #1a1a1a">Conveyor</div>
<div style="position:absolute;left:59.6px;top:176.03px;width:3.8px;height:3.8px;border-radius:50%;background:#b4b4b4"></div>
<div style="position:absolute;left:60.6px;top:177.71px;width:1.8px;height:0.44px;background:#d0d0d0"></div>
<div style="position:absolute;left:61.28px;top:177.03px;width:0.44px;height:1.8px;background:#d0d0d0"></div>
<div style="position:absolute;left:66.3px;top:175.33px;width:1.7px;height:5.2px;background:#3a9aa8"></div>
<div style="position:absolute;left:68.6px;top:175.33px;width:5.4px;height:5.4px;background:repeating-linear-gradient(#555 0 1.1px,#fff 1.1px 1.8px)"></div>
<div style="position:absolute;left:70.9px;top:175.33px;width:0.6px;height:5.4px;background:#fff"></div>
<div style="position:absolute;left:78.7px;top:173.33px;height:9.2px;line-height:9.2px;font-size:4.6px;color:#1a1a1a;white-space:pre;-webkit-text-stroke:0.12px #1a1a1a">Gripper</div>
<div style="position:absolute;left:59.6px;top:182.97px;width:3.8px;height:3.8px;border-radius:50%;background:#b4b4b4"></div>
<div style="position:absolute;left:60.6px;top:184.65px;width:1.8px;height:0.44px;background:#d0d0d0"></div>
<div style="position:absolute;left:61.28px;top:183.97px;width:0.44px;height:1.8px;background:#d0d0d0"></div>
<div style="position:absolute;left:66.3px;top:182.27px;width:1.7px;height:5.2px;background:#3a9aa8"></div>
<div style="position:absolute;left:68.6px;top:182.27px;width:5.4px;height:5.4px;background:repeating-linear-gradient(#555 0 1.1px,#fff 1.1px 1.8px)"></div>
<div style="position:absolute;left:70.9px;top:182.27px;width:0.6px;height:5.4px;background:#fff"></div>
<div style="position:absolute;left:78.7px;top:180.27px;height:9.2px;line-height:9.2px;font-size:4.6px;color:#1a1a1a;white-space:pre;-webkit-text-stroke:0.12px #1a1a1a">Hand</div>
<div style="position:absolute;left:59.6px;top:189.92px;width:3.8px;height:3.8px;border-radius:50%;background:#b4b4b4"></div>
<div style="position:absolute;left:60.6px;top:191.59px;width:1.8px;height:0.44px;background:#d0d0d0"></div>
<div style="position:absolute;left:61.28px;top:190.92px;width:0.44px;height:1.8px;background:#d0d0d0"></div>
<div style="position:absolute;left:66.3px;top:189.21px;width:1.7px;height:5.2px;background:#3a9aa8"></div>
<div style="position:absolute;left:68.6px;top:189.21px;width:5.4px;height:5.4px;background:repeating-linear-gradient(#555 0 1.1px,#fff 1.1px 1.8px)"></div>
<div style="position:absolute;left:70.9px;top:189.21px;width:0.6px;height:5.4px;background:#fff"></div>
<div style="position:absolute;left:78.7px;top:187.22px;height:9.2px;line-height:9.2px;font-size:4.6px;color:#1a1a1a;white-space:pre;-webkit-text-stroke:0.12px #1a1a1a">Pusher</div>
<div style="position:absolute;left:59.6px;top:196.86px;width:3.8px;height:3.8px;border-radius:50%;background:#b4b4b4"></div>
<div style="position:absolute;left:60.6px;top:198.54px;width:1.8px;height:0.44px;background:#d0d0d0"></div>
<div style="position:absolute;left:61.28px;top:197.86px;width:0.44px;height:1.8px;background:#d0d0d0"></div>
<div style="position:absolute;left:66.3px;top:196.16px;width:1.7px;height:5.2px;background:#3a9aa8"></div>
<div style="position:absolute;left:68.6px;top:196.16px;width:5.4px;height:5.4px;background:repeating-linear-gradient(#555 0 1.1px,#fff 1.1px 1.8px)"></div>
<div style="position:absolute;left:70.9px;top:196.16px;width:0.6px;height:5.4px;background:#fff"></div>
<div style="position:absolute;left:78.7px;top:194.16px;height:9.2px;line-height:9.2px;font-size:4.6px;color:#1a1a1a;white-space:pre;-webkit-text-stroke:0.12px #1a1a1a">SuctionCup</div>
<div style="position:absolute;left:27.2px;top:203.81px;width:3.8px;height:3.8px;border-radius:50%;background:#b4b4b4"></div>
<div style="position:absolute;left:28.2px;top:205.48px;width:1.8px;height:0.44px;background:#d0d0d0"></div>
<div style="position:absolute;left:28.88px;top:204.81px;width:0.44px;height:1.8px;background:#d0d0d0"></div>
<div style="position:absolute;left:33.9px;top:203.1px;width:1.7px;height:5.2px;background:#d8a020"></div>
<div style="position:absolute;left:35.8px;top:203.1px;width:5.6px;height:5.2px;border:1.4px solid #444;border-radius:50%;background:#e8c060"></div>
<div style="position:absolute;left:46.3px;top:201.1px;height:9.2px;line-height:9.2px;font-size:4.6px;color:#1a1a1a;white-space:pre;-webkit-text-stroke:0.12px #1a1a1a">CAT Instances</div>
<div style="position:absolute;left:33.9px;top:210.05px;width:1.7px;height:5.2px;background:#d8a020"></div>
<div style="position:absolute;left:36.2px;top:210.45px;width:5px;height:4.4px;border:0.7px solid #6a6a6a"></div>
<div style="position:absolute;left:46.3px;top:208.05px;height:9.2px;line-height:9.2px;font-size:4.6px;color:#1a1a1a;white-space:pre;-webkit-text-stroke:0.12px #1a1a1a">SubApp</div>
<div style="position:absolute;left:27.2px;top:217.7px;width:3.8px;height:3.8px;border-radius:50%;background:#b4b4b4"></div>
<div style="position:absolute;left:28.2px;top:219.38px;width:1.8px;height:0.44px;background:#d0d0d0"></div>
<div style="position:absolute;left:28.88px;top:218.7px;width:0.44px;height:1.8px;background:#d0d0d0"></div>
<div style="position:absolute;left:33.9px;top:217px;width:1.7px;height:5.2px;background:#2a4a8a"></div>
<div style="position:absolute;left:36.2px;top:217px;width:5.4px;height:5.4px;background:repeating-linear-gradient(#555 0 1.1px,#fff 1.1px 1.8px)"></div>
<div style="position:absolute;left:38.5px;top:217px;width:0.6px;height:5.4px;background:#fff"></div>
<div style="position:absolute;left:46.3px;top:215px;height:9.2px;line-height:9.2px;font-size:4.6px;color:#1a1a1a;white-space:pre;-webkit-text-stroke:0.12px #1a1a1a">Composite</div>
<div style="position:absolute;left:27.2px;top:224.64px;width:3.8px;height:3.8px;border-radius:50%;background:#b4b4b4"></div>
<div style="position:absolute;left:28.2px;top:226.32px;width:1.8px;height:0.44px;background:#d0d0d0"></div>
<div style="position:absolute;left:28.88px;top:225.64px;width:0.44px;height:1.8px;background:#d0d0d0"></div>
<div style="position:absolute;left:33.9px;top:223.94px;width:1.7px;height:5.2px;background:#7ab8e0"></div>
<div style="position:absolute;left:36.2px;top:223.94px;width:5.4px;height:5.4px;background:repeating-linear-gradient(#555 0 1.1px,#fff 1.1px 1.8px)"></div>
<div style="position:absolute;left:38.5px;top:223.94px;width:0.6px;height:5.4px;background:#fff"></div>
<div style="position:absolute;left:46.3px;top:221.94px;height:9.2px;line-height:9.2px;font-size:4.6px;color:#1a1a1a;white-space:pre;-webkit-text-stroke:0.12px #1a1a1a">Basic</div>
<div style="position:absolute;left:33.9px;top:230.88px;width:1.7px;height:5.2px;background:#6ab87a"></div>
<div style="position:absolute;left:36.2px;top:230.88px;width:5.4px;height:5.4px;background:repeating-linear-gradient(#555 0 1.1px,#fff 1.1px 1.8px)"></div>
<div style="position:absolute;left:38.5px;top:230.88px;width:0.6px;height:5.4px;background:#fff"></div>
<div style="position:absolute;left:46.3px;top:228.89px;height:9.2px;line-height:9.2px;font-size:4.6px;color:#1a1a1a;white-space:pre;-webkit-text-stroke:0.12px #1a1a1a">Service</div>
<div style="position:absolute;left:27.2px;top:238.53px;width:3.8px;height:3.8px;border-radius:50%;background:#b4b4b4"></div>
<div style="position:absolute;left:28.2px;top:240.21px;width:1.8px;height:0.44px;background:#d0d0d0"></div>
<div style="position:absolute;left:28.88px;top:239.53px;width:0.44px;height:1.8px;background:#d0d0d0"></div>
<div style="position:absolute;left:33.9px;top:237.83px;width:1.7px;height:5.2px;background:#a070c0"></div>
<div style="position:absolute;left:36.2px;top:237.83px;width:5.4px;height:5.4px;background:repeating-linear-gradient(#555 0 1.1px,#fff 1.1px 1.8px)"></div>
<div style="position:absolute;left:38.5px;top:237.83px;width:0.6px;height:5.4px;background:#fff"></div>
<div style="position:absolute;left:46.3px;top:235.83px;height:9.2px;line-height:9.2px;font-size:4.6px;color:#1a1a1a;white-space:pre;-webkit-text-stroke:0.12px #1a1a1a">Adapter</div>
<div style="position:absolute;left:27.2px;top:245.48px;width:3.8px;height:3.8px;border-radius:50%;background:#b4b4b4"></div>
<div style="position:absolute;left:28.2px;top:247.15px;width:1.8px;height:0.44px;background:#d0d0d0"></div>
<div style="position:absolute;left:36.2px;top:245.38px;width:5.2px;height:3.6px;border:0.7px solid #6a6a6a;border-radius:0.7px"></div>
<div style="position:absolute;left:37.2px;top:248.98px;width:3.2px;height:0.8px;background:#6a6a6a"></div>
<div style="position:absolute;left:46.3px;top:242.78px;height:9.2px;line-height:9.2px;font-size:4.6px;color:#1a1a1a;white-space:pre;-webkit-text-stroke:0.12px #1a1a1a">Canvases</div>
<div style="position:absolute;left:47px;top:252.32px;width:5.2px;height:4.2px;border:0.7px solid #6a6a6a;border-radius:0.5px;background:#fff"></div>
<div style="position:absolute;left:47px;top:251.72px;width:2.4px;height:1px;border:0.6px solid #6a6a6a;border-bottom:none"></div>
<div style="position:absolute;left:57.1px;top:249.72px;height:9.2px;line-height:9.2px;font-size:4.6px;color:#1a1a1a;white-space:pre;-webkit-text-stroke:0.12px #1a1a1a">1920x1080</div>
<div style="position:absolute;left:38px;top:259.37px;width:3.8px;height:3.8px;border-radius:50%;background:#b4b4b4"></div>
<div style="position:absolute;left:39px;top:261.05px;width:1.8px;height:0.44px;background:#d0d0d0"></div>
<div style="position:absolute;left:47px;top:259.27px;width:5.2px;height:4.2px;border:0.7px solid #6a6a6a;border-radius:0.5px;background:#fff"></div>
<div style="position:absolute;left:47px;top:258.67px;width:2.4px;height:1px;border:0.6px solid #6a6a6a;border-bottom:none"></div>
<div style="position:absolute;left:57.1px;top:256.67px;height:9.2px;line-height:9.2px;font-size:4.6px;color:#1a1a1a;white-space:pre;-webkit-text-stroke:0.12px #1a1a1a">1280x980</div>
<div style="position:absolute;left:57.8px;top:266.21px;width:5.2px;height:3.6px;border:0.7px solid #6a6a6a;border-radius:0.7px"></div>
<div style="position:absolute;left:58.8px;top:269.81px;width:3.2px;height:0.8px;background:#6a6a6a"></div>
<div style="position:absolute;left:67.9px;top:263.61px;height:9.2px;line-height:9.2px;font-size:4.6px;color:#1a1a1a;white-space:pre;-webkit-text-stroke:0.12px #1a1a1a">ITInfo</div>
<div style="position:absolute;left:57.8px;top:273.16px;width:5.2px;height:3.6px;border:0.7px solid #6a6a6a;border-radius:0.7px"></div>
<div style="position:absolute;left:58.8px;top:276.76px;width:3.2px;height:0.8px;background:#6a6a6a"></div>
<div style="position:absolute;left:67.9px;top:270.56px;height:9.2px;line-height:9.2px;font-size:4.6px;color:#1a1a1a;white-space:pre;-webkit-text-stroke:0.12px #1a1a1a">Main</div>
<div style="position:absolute;left:57.8px;top:280.1px;width:5.2px;height:3.6px;border:0.7px solid #6a6a6a;border-radius:0.7px"></div>
<div style="position:absolute;left:58.8px;top:283.7px;width:3.2px;height:0.8px;background:#6a6a6a"></div>
<div style="position:absolute;left:67.9px;top:277.5px;height:9.2px;line-height:9.2px;font-size:4.6px;color:#1a1a1a;white-space:pre;-webkit-text-stroke:0.12px #1a1a1a">Conveyors</div>
<div style="position:absolute;left:57.8px;top:287.05px;width:5.2px;height:3.6px;border:0.7px solid #6a6a6a;border-radius:0.7px"></div>
<div style="position:absolute;left:58.8px;top:290.65px;width:3.2px;height:0.8px;background:#6a6a6a"></div>
<div style="position:absolute;left:67.9px;top:284.44px;height:9.2px;line-height:9.2px;font-size:4.6px;color:#1a1a1a;white-space:pre;-webkit-text-stroke:0.12px #1a1a1a">Sandbox</div>
<div style="position:absolute;left:57.8px;top:293.99px;width:5.2px;height:3.6px;border:0.7px solid #6a6a6a;border-radius:0.7px"></div>
<div style="position:absolute;left:58.8px;top:297.59px;width:3.2px;height:0.8px;background:#6a6a6a"></div>
<div style="position:absolute;left:67.9px;top:291.39px;height:9.2px;line-height:9.2px;font-size:4.6px;color:#1a1a1a;white-space:pre;-webkit-text-stroke:0.12px #1a1a1a">Overview</div>
<div style="position:absolute;left:47px;top:300.94px;width:5.2px;height:4.2px;border:0.7px solid #6a6a6a;border-radius:0.5px;background:#fff"></div>
<div style="position:absolute;left:47px;top:300.33px;width:2.4px;height:1px;border:0.6px solid #6a6a6a;border-bottom:none"></div>
<div style="position:absolute;left:57.1px;top:298.33px;height:9.2px;line-height:9.2px;font-size:4.6px;color:#1a1a1a;white-space:pre;-webkit-text-stroke:0.12px #1a1a1a">Without resolution</div>
<div style="position:absolute;left:33.9px;top:307.28px;width:1.7px;height:5.2px;background:#c8a040"></div>
<div style="position:absolute;left:36.2px;top:307.68px;width:5px;height:4.4px;border:0.7px solid #6a6a6a"></div>
<div style="position:absolute;left:46.3px;top:305.28px;height:9.2px;line-height:9.2px;font-size:4.6px;color:#1a1a1a;white-space:pre;-webkit-text-stroke:0.12px #1a1a1a">Graphics</div>
<div style="position:absolute;left:36.2px;top:314.63px;width:5px;height:4.4px;border:0.7px solid #6a6a6a"></div>
<div style="position:absolute;left:46.3px;top:312.23px;height:9.2px;line-height:9.2px;font-size:4.6px;color:#1a1a1a;white-space:pre;-webkit-text-stroke:0.12px #1a1a1a">POU</div>
<div style="position:absolute;left:33.9px;top:321.17px;width:1.7px;height:5.2px;background:#5aa85a"></div>
<div style="position:absolute;left:36.2px;top:321.57px;width:5px;height:4.4px;border:0.7px solid #6a6a6a"></div>
<div style="position:absolute;left:46.3px;top:319.17px;height:9.2px;line-height:9.2px;font-size:4.6px;color:#1a1a1a;white-space:pre;-webkit-text-stroke:0.12px #1a1a1a">Data Type</div>
<div style="position:absolute;left:33.9px;top:328.12px;width:1.7px;height:5.2px;background:#2a4a8a"></div>
<div style="position:absolute;left:36.2px;top:328.52px;width:5px;height:4.4px;border:0.7px solid #6a6a6a"></div>
<div style="position:absolute;left:46.3px;top:326.12px;height:9.2px;line-height:9.2px;font-size:4.6px;color:#1a1a1a;white-space:pre;-webkit-text-stroke:0.12px #1a1a1a">Function</div>
</div>
<div style="position:absolute;left:148.6px;top:77.5px;width:1px;height:420px;background:#9a9a9a"></div>
<div style="position:absolute;left:148.9px;top:51px;width:0.6px;height:26.5px;background:#e2e2e2"></div>
<div style="position:absolute;left:149.6px;top:51px;width:2.6px;height:447px;background:#f0f0f0"></div>
<div style="position:absolute;left:0px;top:77.5px;width:0.9px;height:420px;background:#a8a8a8"></div>
<div style="position:absolute;left:150.2px;top:50px;width:649.8px;height:447px;background:#fdfdfd"></div>
<div style="position:absolute;left:153.5px;top:51.5px;width:37.5px;height:8.5px;background:#f7f7f7"></div>
<div style="position:absolute;left:192px;top:51.5px;width:92.8px;height:8.2px;background:#dedede"></div>
<div style="position:absolute;left:284.8px;top:51.5px;width:139.2px;height:8.2px;background:#dcdcdc"></div>
<div style="position:absolute;left:155.3px;top:53.9px;width:5.6px;height:3.8px;border:0.6px solid #777;border-radius:0.6px"></div>
<div style="position:absolute;left:156.8px;top:57.7px;width:2.6px;height:0.6px;background:#777"></div>
<div style="position:absolute;left:162.7px;top:51.4px;height:9.2px;line-height:9.2px;font-size:4.6px;color:#222;white-space:pre;-webkit-text-stroke:0.1px #222">Overview</div>
<div style="position:absolute;left:186.4px;top:51.2px;height:9.2px;line-height:9.2px;font-size:4.6px;color:#222;white-space:pre;">✕</div>
<div style="position:absolute;left:193.3px;top:52.8px;width:1.2px;height:5.4px;background:#4aa0c8"></div>
<div style="position:absolute;left:195.3px;top:53.2px;width:5px;height:4.8px;background:repeating-linear-gradient(#555 0 0.9px,transparent 0.9px 1.6px);opacity:0.85"></div>
<div style="position:absolute;left:202.6px;top:51.45px;height:9.1px;line-height:9.1px;font-size:4.55px;color:#333;white-space:pre;">FieldInterfaceLinearConveyorHWandVC</div>
<div style="position:absolute;left:293.4px;top:52.8px;width:1.2px;height:5.4px;background:#b04080"></div>
<div style="position:absolute;left:295.4px;top:53.2px;width:5px;height:4.8px;border:0.7px solid #666"></div>
<div style="position:absolute;left:302.5px;top:51.45px;height:9.1px;line-height:9.1px;font-size:4.55px;color:#333;white-space:pre;">System</div>
<div style="position:absolute;left:330px;top:53.7px;width:5.4px;height:3.8px;border:0.7px solid #555;border-radius:0.6px"></div>
<div style="position:absolute;left:331px;top:57.4px;width:3.4px;height:0.8px;background:#555"></div>
<div style="position:absolute;left:337.3px;top:51.45px;height:9.1px;line-height:9.1px;font-size:4.55px;color:#333;white-space:pre;">Main</div>
<div style="position:absolute;left:358.8px;top:50.8px;height:10px;line-height:10px;font-size:5px;color:#555;white-space:pre;">✥</div>
<div style="position:absolute;left:366.8px;top:51.45px;height:9.1px;line-height:9.1px;font-size:4.55px;color:#333;white-space:pre;">Deploy and Diagnostic</div>
<div style="position:absolute;left:165.2px;top:61.8px;width:9.8px;height:7.9px;background:#cce4f7"></div>
<svg style="position:absolute;left:0;top:0" width="180" height="72"><path d="M168.2,62.8 L168.2,68.4 L169.6,67 L170.8,69.2 L171.6,68.8 L170.5,66.6 L172.4,66.6 Z" fill="#fff" stroke="#333" stroke-width="0.7"/></svg>
<div style="position:absolute;left:176.4px;top:65.2px;width:6.2px;height:0.8px;background:#555;transform:rotate(45deg)"></div>
<div style="position:absolute;left:183.4px;top:62.8px;width:5px;height:5px;border:0.8px solid #555;border-radius:0.5px"></div>
<div style="position:absolute;left:192.2px;top:61.6px;height:7.6px;line-height:7.6px;font-size:3.8px;color:#333;white-space:pre;">▾</div>
<div style="position:absolute;left:199.2px;top:62.8px;width:0.9px;height:5px;background:#555"></div>
<div style="position:absolute;left:204.8px;top:61.6px;height:7.6px;line-height:7.6px;font-size:3.8px;color:#333;white-space:pre;">▾</div>
<div style="position:absolute;left:209.7px;top:62.8px;width:5px;height:5px;border:0.8px solid #555;border-radius:50%"></div>
<div style="position:absolute;left:217.5px;top:63.8px;width:5px;height:4px;background:#555;clip-path:polygon(50% 0,100% 40%,100% 100%,0 100%,0 40%);opacity:0.9"></div>
<div style="position:absolute;left:227.2px;top:62.8px;width:5px;height:5px;border:0.8px solid #555;border-radius:50%"></div>
<div style="position:absolute;left:234.8px;top:62.8px;width:7px;height:10px;border:0.9px solid #555;border-radius:50%;clip-path:inset(0 0 50% 50%)"></div>
<div style="position:absolute;left:244.7px;top:62.8px;width:4.4px;height:5px;background:#555;border-radius:0 1.5px 0 0;opacity:0.85"></div>
<div style="position:absolute;left:253.5px;top:62.8px;width:5px;height:5px;border:0.8px solid #555;background:linear-gradient(#555,#555) 50% 0/0.7px 100% no-repeat,linear-gradient(#555,#555) 0 50%/100% 0.7px no-repeat"></div>
<div style="position:absolute;left:261.8px;top:61.6px;height:7.6px;line-height:7.6px;font-size:3.8px;color:#333;white-space:pre;">▾</div>
<div style="position:absolute;left:266px;top:63.8px;width:6px;height:3px;background:#555;border-radius:0.6px;opacity:0.85"></div>
<div style="position:absolute;left:275.3px;top:62.8px;width:5px;height:5px;border:0.8px solid #555"></div>
<div style="position:absolute;left:275.9px;top:61.1px;height:8.4px;line-height:8.4px;font-size:4.2px;color:#555;white-space:pre;">✓</div>
<div style="position:absolute;left:283.2px;top:62.8px;width:4.4px;height:5px;background:#555;border-radius:0 1.5px 0 0;opacity:0.85"></div>
<div style="position:absolute;left:292.5px;top:62.8px;width:5px;height:5px;border:0.8px solid #555;background:linear-gradient(#555,#555) 50% 0/0.7px 100% no-repeat,linear-gradient(#555,#555) 0 50%/100% 0.7px no-repeat"></div>
<div style="position:absolute;left:301px;top:62.8px;width:5px;height:5px;border:0.8px solid #555;background:linear-gradient(#555,#555) 50% 0/0.7px 100% no-repeat,linear-gradient(#555,#555) 0 50%/100% 0.7px no-repeat"></div>
<div style="position:absolute;left:310.5px;top:62.8px;width:5px;height:5px;border:0.8px solid #555;border-radius:0.5px"></div>
<div style="position:absolute;left:319.5px;top:62.8px;width:5px;height:5px;border:0.8px solid #555;border-radius:0.5px"></div>
<div style="position:absolute;left:329px;top:60.3px;height:10px;line-height:10px;font-size:5px;color:#555;white-space:pre;">⇕</div>
<div style="position:absolute;left:338.3px;top:63.8px;width:3.4px;height:3.4px;border:0.8px solid #555;border-radius:50%"></div>
<div style="position:absolute;left:346.5px;top:62.8px;width:5px;height:5px;border:0.8px solid #555;background:linear-gradient(#555,#555) 50% 0/0.7px 100% no-repeat,linear-gradient(#555,#555) 0 50%/100% 0.7px no-repeat"></div>
<div style="position:absolute;left:354.5px;top:62.8px;width:5px;height:5px;border-left:0.8px solid #555;border-bottom:0.8px solid #555"></div>
<div style="position:absolute;left:355.8px;top:64.8px;width:0.9px;height:2.4px;background:#555"></div>
<div style="position:absolute;left:357.3px;top:63.8px;width:0.9px;height:3.4px;background:#555"></div>
<div style="position:absolute;left:362.8px;top:61.6px;height:7.6px;line-height:7.6px;font-size:3.8px;color:#333;white-space:pre;">▾</div>
<div style="position:absolute;left:367px;top:62.8px;width:5px;height:5px;background:repeating-linear-gradient(#555 0 0.9px,transparent 0.9px 1.6px);opacity:0.9"></div>
<div style="position:absolute;left:376px;top:62.8px;width:5px;height:5px;background:repeating-linear-gradient(#555 0 0.9px,transparent 0.9px 1.6px);opacity:0.9"></div>
<div style="position:absolute;left:385.5px;top:62.8px;width:6px;height:5px;background:#555;clip-path:polygon(50% 0,100% 100%,0 100%,10% 85%,90% 85%,50% 18%,10% 85%,0 100%)"></div>
<div style="position:absolute;left:392.8px;top:61.6px;height:7.6px;line-height:7.6px;font-size:3.8px;color:#333;white-space:pre;">▾</div>
<div style="position:absolute;left:397.5px;top:62.8px;width:5px;height:5px;background:repeating-linear-gradient(#555 0 0.9px,transparent 0.9px 1.6px);opacity:0.9"></div>
<div style="position:absolute;left:406.5px;top:62.8px;width:5px;height:5px;background:repeating-linear-gradient(#555 0 0.9px,transparent 0.9px 1.6px);opacity:0.9"></div>
<div style="position:absolute;left:414.8px;top:61.6px;height:7.6px;line-height:7.6px;font-size:3.8px;color:#333;white-space:pre;">▾</div>
<div style="position:absolute;left:419.5px;top:62.8px;width:3.8px;height:3.8px;border:0.8px solid #555;border-radius:50%"></div>
<div style="position:absolute;left:422.5px;top:66.2px;width:2.4px;height:0.9px;background:#555;transform:rotate(45deg)"></div>
<div style="position:absolute;left:428.5px;top:62.8px;width:5px;height:5px;border:0.8px solid #555;background:linear-gradient(#555,#555) 50% 0/0.7px 100% no-repeat,linear-gradient(#555,#555) 0 50%/100% 0.7px no-repeat"></div>
<div style="position:absolute;left:152.1px;top:60.8px;width:11.8px;height:436.2px;background:#dcdcdc"></div>
<svg style="position:absolute;left:0;top:0" width="170" height="80"><path d="M155.2,65.6 H161 M157.6,63.4 L155.2,65.6 L157.6,67.8" fill="none" stroke="#333" stroke-width="0.9"/><path d="M155.6,74.9 H161.4 M159,72.7 L161.4,74.9 L159,77.1" fill="none" stroke="#444" stroke-width="0.9"/><circle cx="162.6" cy="65.8" r="0.5" fill="#333"/></svg>
<div style="position:absolute;left:153px;top:85.2px;width:9.8px;height:8.5px;background:#a9a9a9"></div>
<div style="position:absolute;left:155px;top:87px;width:5.6px;height:4.6px;border:0.7px solid #555;border-radius:0.6px"></div>
<div style="position:absolute;left:155.4px;top:96.5px;width:5px;height:5px;border:0.8px solid #555;border-radius:1px"></div>
<div style="position:absolute;left:155px;top:486.5px;height:9px;line-height:9px;font-size:4.5px;color:#777;white-space:pre;">»</div>
<div style="position:absolute;left:163.9px;top:60.8px;width:2.4px;height:436px;background:#f2f2f2"></div>
<div style="position:absolute;left:166.3px;top:71.5px;width:633.7px;height:393.5px;background:#f9f9f9"></div>
<svg style="position:absolute;left:166px;top:72.5px" width="634" height="392"><defs><pattern id="dots" x="3" y="1.3" width="129" height="129" patternUnits="userSpaceOnUse"><g fill="#c2c2c2"><rect x="0" y="0.30" width="1" height="1.8"/><rect x="4" y="0.30" width="1" height="1.8"/><rect x="8" y="0.30" width="1" height="1.8"/><rect x="12" y="0.30" width="1" height="1.8"/><rect x="16" y="0.30" width="1" height="1.8"/><rect x="20" y="0.30" width="1" height="1.8"/><rect x="24" y="0.30" width="1" height="1.8"/><rect x="28" y="0.30" width="1" height="1.8"/><rect x="32" y="0.30" width="1" height="1.8"/><rect x="36" y="0.30" width="1" height="1.8"/><rect x="40" y="0.30" width="1" height="1.8"/><rect x="44" y="0.30" width="1" height="1.8"/><rect x="48" y="0.30" width="1" height="1.8"/><rect x="52" y="0.30" width="1" height="1.8"/><rect x="56" y="0.30" width="1" height="1.8"/><rect x="60" y="0.30" width="1" height="1.8"/><rect x="64" y="0.30" width="1" height="1.8"/><rect x="68" y="0.30" width="1" height="1.8"/><rect x="72" y="0.30" width="1" height="1.8"/><rect x="76" y="0.30" width="1" height="1.8"/><rect x="80" y="0.30" width="1" height="1.8"/><rect x="84" y="0.30" width="1" height="1.8"/><rect x="88" y="0.30" width="1" height="1.8"/><rect x="92" y="0.30" width="1" height="1.8"/><rect x="96" y="0.30" width="1" height="1.8"/><rect x="100" y="0.30" width="1" height="1.8"/><rect x="104" y="0.30" width="1" height="1.8"/><rect x="108" y="0.30" width="1" height="1.8"/><rect x="112" y="0.30" width="1" height="1.8"/><rect x="117" y="0.30" width="1" height="1.8"/><rect x="121" y="0.30" width="1" height="1.8"/><rect x="125" y="0.30" width="1" height="1.8"/><rect x="0" y="4.33" width="1" height="1.8"/><rect x="4" y="4.33" width="1" height="1.8"/><rect x="8" y="4.33" width="1" height="1.8"/><rect x="12" y="4.33" width="1" height="1.8"/><rect x="16" y="4.33" width="1" height="1.8"/><rect x="20" y="4.33" width="1" height="1.8"/><rect x="24" y="4.33" width="1" height="1.8"/><rect x="28" y="4.33" width="1" height="1.8"/><rect x="32" y="4.33" width="1" height="1.8"/><rect x="36" y="4.33" width="1" height="1.8"/><rect x="40" y="4.33" width="1" height="1.8"/><rect x="44" y="4.33" width="1" height="1.8"/><rect x="48" y="4.33" width="1" height="1.8"/><rect x="52" y="4.33" width="1" height="1.8"/><rect x="56" y="4.33" width="1" height="1.8"/><rect x="60" y="4.33" width="1" height="1.8"/><rect x="64" y="4.33" width="1" height="1.8"/><rect x="68" y="4.33" width="1" height="1.8"/><rect x="72" y="4.33" width="1" height="1.8"/><rect x="76" y="4.33" width="1" height="1.8"/><rect x="80" y="4.33" width="1" height="1.8"/><rect x="84" y="4.33" width="1" height="1.8"/><rect x="88" y="4.33" width="1" height="1.8"/><rect x="92" y="4.33" width="1" height="1.8"/><rect x="96" y="4.33" width="1" height="1.8"/><rect x="100" y="4.33" width="1" height="1.8"/><rect x="104" y="4.33" width="1" height="1.8"/><rect x="108" y="4.33" width="1" height="1.8"/><rect x="112" y="4.33" width="1" height="1.8"/><rect x="117" y="4.33" width="1" height="1.8"/><rect x="121" y="4.33" width="1" height="1.8"/><rect x="125" y="4.33" width="1" height="1.8"/><rect x="0" y="8.36" width="1" height="1.8"/><rect x="4" y="8.36" width="1" height="1.8"/><rect x="8" y="8.36" width="1" height="1.8"/><rect x="12" y="8.36" width="1" height="1.8"/><rect x="16" y="8.36" width="1" height="1.8"/><rect x="20" y="8.36" width="1" height="1.8"/><rect x="24" y="8.36" width="1" height="1.8"/><rect x="28" y="8.36" width="1" height="1.8"/><rect x="32" y="8.36" width="1" height="1.8"/><rect x="36" y="8.36" width="1" height="1.8"/><rect x="40" y="8.36" width="1" height="1.8"/><rect x="44" y="8.36" width="1" height="1.8"/><rect x="48" y="8.36" width="1" height="1.8"/><rect x="52" y="8.36" width="1" height="1.8"/><rect x="56" y="8.36" width="1" height="1.8"/><rect x="60" y="8.36" width="1" height="1.8"/><rect x="64" y="8.36" width="1" height="1.8"/><rect x="68" y="8.36" width="1" height="1.8"/><rect x="72" y="8.36" width="1" height="1.8"/><rect x="76" y="8.36" width="1" height="1.8"/><rect x="80" y="8.36" width="1" height="1.8"/><rect x="84" y="8.36" width="1" height="1.8"/><rect x="88" y="8.36" width="1" height="1.8"/><rect x="92" y="8.36" width="1" height="1.8"/><rect x="96" y="8.36" width="1" height="1.8"/><rect x="100" y="8.36" width="1" height="1.8"/><rect x="104" y="8.36" width="1" height="1.8"/><rect x="108" y="8.36" width="1" height="1.8"/><rect x="112" y="8.36" width="1" height="1.8"/><rect x="117" y="8.36" width="1" height="1.8"/><rect x="121" y="8.36" width="1" height="1.8"/><rect x="125" y="8.36" width="1" height="1.8"/><rect x="0" y="12.39" width="1" height="1.8"/><rect x="4" y="12.39" width="1" height="1.8"/><rect x="8" y="12.39" width="1" height="1.8"/><rect x="12" y="12.39" width="1" height="1.8"/><rect x="16" y="12.39" width="1" height="1.8"/><rect x="20" y="12.39" width="1" height="1.8"/><rect x="24" y="12.39" width="1" height="1.8"/><rect x="28" y="12.39" width="1" height="1.8"/><rect x="32" y="12.39" width="1" height="1.8"/><rect x="36" y="12.39" width="1" height="1.8"/><rect x="40" y="12.39" width="1" height="1.8"/><rect x="44" y="12.39" width="1" height="1.8"/><rect x="48" y="12.39" width="1" height="1.8"/><rect x="52" y="12.39" width="1" height="1.8"/><rect x="56" y="12.39" width="1" height="1.8"/><rect x="60" y="12.39" width="1" height="1.8"/><rect x="64" y="12.39" width="1" height="1.8"/><rect x="68" y="12.39" width="1" height="1.8"/><rect x="72" y="12.39" width="1" height="1.8"/><rect x="76" y="12.39" width="1" height="1.8"/><rect x="80" y="12.39" width="1" height="1.8"/><rect x="84" y="12.39" width="1" height="1.8"/><rect x="88" y="12.39" width="1" height="1.8"/><rect x="92" y="12.39" width="1" height="1.8"/><rect x="96" y="12.39" width="1" height="1.8"/><rect x="100" y="12.39" width="1" height="1.8"/><rect x="104" y="12.39" width="1" height="1.8"/><rect x="108" y="12.39" width="1" height="1.8"/><rect x="112" y="12.39" width="1" height="1.8"/><rect x="117" y="12.39" width="1" height="1.8"/><rect x="121" y="12.39" width="1" height="1.8"/><rect x="125" y="12.39" width="1" height="1.8"/><rect x="0" y="16.43" width="1" height="1.8"/><rect x="4" y="16.43" width="1" height="1.8"/><rect x="8" y="16.43" width="1" height="1.8"/><rect x="12" y="16.43" width="1" height="1.8"/><rect x="16" y="16.43" width="1" height="1.8"/><rect x="20" y="16.43" width="1" height="1.8"/><rect x="24" y="16.43" width="1" height="1.8"/><rect x="28" y="16.43" width="1" height="1.8"/><rect x="32" y="16.43" width="1" height="1.8"/><rect x="36" y="16.43" width="1" height="1.8"/><rect x="40" y="16.43" width="1" height="1.8"/><rect x="44" y="16.43" width="1" height="1.8"/><rect x="48" y="16.43" width="1" height="1.8"/><rect x="52" y="16.43" width="1" height="1.8"/><rect x="56" y="16.43" width="1" height="1.8"/><rect x="60" y="16.43" width="1" height="1.8"/><rect x="64" y="16.43" width="1" height="1.8"/><rect x="68" y="16.43" width="1" height="1.8"/><rect x="72" y="16.43" width="1" height="1.8"/><rect x="76" y="16.43" width="1" height="1.8"/><rect x="80" y="16.43" width="1" height="1.8"/><rect x="84" y="16.43" width="1" height="1.8"/><rect x="88" y="16.43" width="1" height="1.8"/><rect x="92" y="16.43" width="1" height="1.8"/><rect x="96" y="16.43" width="1" height="1.8"/><rect x="100" y="16.43" width="1" height="1.8"/><rect x="104" y="16.43" width="1" height="1.8"/><rect x="108" y="16.43" width="1" height="1.8"/><rect x="112" y="16.43" width="1" height="1.8"/><rect x="117" y="16.43" width="1" height="1.8"/><rect x="121" y="16.43" width="1" height="1.8"/><rect x="125" y="16.43" width="1" height="1.8"/><rect x="0" y="20.46" width="1" height="1.8"/><rect x="4" y="20.46" width="1" height="1.8"/><rect x="8" y="20.46" width="1" height="1.8"/><rect x="12" y="20.46" width="1" height="1.8"/><rect x="16" y="20.46" width="1" height="1.8"/><rect x="20" y="20.46" width="1" height="1.8"/><rect x="24" y="20.46" width="1" height="1.8"/><rect x="28" y="20.46" width="1" height="1.8"/><rect x="32" y="20.46" width="1" height="1.8"/><rect x="36" y="20.46" width="1" height="1.8"/><rect x="40" y="20.46" width="1" height="1.8"/><rect x="44" y="20.46" width="1" height="1.8"/><rect x="48" y="20.46" width="1" height="1.8"/><rect x="52" y="20.46" width="1" height="1.8"/><rect x="56" y="20.46" width="1" height="1.8"/><rect x="60" y="20.46" width="1" height="1.8"/><rect x="64" y="20.46" width="1" height="1.8"/><rect x="68" y="20.46" width="1" height="1.8"/><rect x="72" y="20.46" width="1" height="1.8"/><rect x="76" y="20.46" width="1" height="1.8"/><rect x="80" y="20.46" width="1" height="1.8"/><rect x="84" y="20.46" width="1" height="1.8"/><rect x="88" y="20.46" width="1" height="1.8"/><rect x="92" y="20.46" width="1" height="1.8"/><rect x="96" y="20.46" width="1" height="1.8"/><rect x="100" y="20.46" width="1" height="1.8"/><rect x="104" y="20.46" width="1" height="1.8"/><rect x="108" y="20.46" width="1" height="1.8"/><rect x="112" y="20.46" width="1" height="1.8"/><rect x="117" y="20.46" width="1" height="1.8"/><rect x="121" y="20.46" width="1" height="1.8"/><rect x="125" y="20.46" width="1" height="1.8"/><rect x="0" y="24.49" width="1" height="1.8"/><rect x="4" y="24.49" width="1" height="1.8"/><rect x="8" y="24.49" width="1" height="1.8"/><rect x="12" y="24.49" width="1" height="1.8"/><rect x="16" y="24.49" width="1" height="1.8"/><rect x="20" y="24.49" width="1" height="1.8"/><rect x="24" y="24.49" width="1" height="1.8"/><rect x="28" y="24.49" width="1" height="1.8"/><rect x="32" y="24.49" width="1" height="1.8"/><rect x="36" y="24.49" width="1" height="1.8"/><rect x="40" y="24.49" width="1" height="1.8"/><rect x="44" y="24.49" width="1" height="1.8"/><rect x="48" y="24.49" width="1" height="1.8"/><rect x="52" y="24.49" width="1" height="1.8"/><rect x="56" y="24.49" width="1" height="1.8"/><rect x="60" y="24.49" width="1" height="1.8"/><rect x="64" y="24.49" width="1" height="1.8"/><rect x="68" y="24.49" width="1" height="1.8"/><rect x="72" y="24.49" width="1" height="1.8"/><rect x="76" y="24.49" width="1" height="1.8"/><rect x="80" y="24.49" width="1" height="1.8"/><rect x="84" y="24.49" width="1" height="1.8"/><rect x="88" y="24.49" width="1" height="1.8"/><rect x="92" y="24.49" width="1" height="1.8"/><rect x="96" y="24.49" width="1" height="1.8"/><rect x="100" y="24.49" width="1" height="1.8"/><rect x="104" y="24.49" width="1" height="1.8"/><rect x="108" y="24.49" width="1" height="1.8"/><rect x="112" y="24.49" width="1" height="1.8"/><rect x="117" y="24.49" width="1" height="1.8"/><rect x="121" y="24.49" width="1" height="1.8"/><rect x="125" y="24.49" width="1" height="1.8"/><rect x="0" y="28.52" width="1" height="1.8"/><rect x="4" y="28.52" width="1" height="1.8"/><rect x="8" y="28.52" width="1" height="1.8"/><rect x="12" y="28.52" width="1" height="1.8"/><rect x="16" y="28.52" width="1" height="1.8"/><rect x="20" y="28.52" width="1" height="1.8"/><rect x="24" y="28.52" width="1" height="1.8"/><rect x="28" y="28.52" width="1" height="1.8"/><rect x="32" y="28.52" width="1" height="1.8"/><rect x="36" y="28.52" width="1" height="1.8"/><rect x="40" y="28.52" width="1" height="1.8"/><rect x="44" y="28.52" width="1" height="1.8"/><rect x="48" y="28.52" width="1" height="1.8"/><rect x="52" y="28.52" width="1" height="1.8"/><rect x="56" y="28.52" width="1" height="1.8"/><rect x="60" y="28.52" width="1" height="1.8"/><rect x="64" y="28.52" width="1" height="1.8"/><rect x="68" y="28.52" width="1" height="1.8"/><rect x="72" y="28.52" width="1" height="1.8"/><rect x="76" y="28.52" width="1" height="1.8"/><rect x="80" y="28.52" width="1" height="1.8"/><rect x="84" y="28.52" width="1" height="1.8"/><rect x="88" y="28.52" width="1" height="1.8"/><rect x="92" y="28.52" width="1" height="1.8"/><rect x="96" y="28.52" width="1" height="1.8"/><rect x="100" y="28.52" width="1" height="1.8"/><rect x="104" y="28.52" width="1" height="1.8"/><rect x="108" y="28.52" width="1" height="1.8"/><rect x="112" y="28.52" width="1" height="1.8"/><rect x="117" y="28.52" width="1" height="1.8"/><rect x="121" y="28.52" width="1" height="1.8"/><rect x="125" y="28.52" width="1" height="1.8"/><rect x="0" y="32.55" width="1" height="1.8"/><rect x="4" y="32.55" width="1" height="1.8"/><rect x="8" y="32.55" width="1" height="1.8"/><rect x="12" y="32.55" width="1" height="1.8"/><rect x="16" y="32.55" width="1" height="1.8"/><rect x="20" y="32.55" width="1" height="1.8"/><rect x="24" y="32.55" width="1" height="1.8"/><rect x="28" y="32.55" width="1" height="1.8"/><rect x="32" y="32.55" width="1" height="1.8"/><rect x="36" y="32.55" width="1" height="1.8"/><rect x="40" y="32.55" width="1" height="1.8"/><rect x="44" y="32.55" width="1" height="1.8"/><rect x="48" y="32.55" width="1" height="1.8"/><rect x="52" y="32.55" width="1" height="1.8"/><rect x="56" y="32.55" width="1" height="1.8"/><rect x="60" y="32.55" width="1" height="1.8"/><rect x="64" y="32.55" width="1" height="1.8"/><rect x="68" y="32.55" width="1" height="1.8"/><rect x="72" y="32.55" width="1" height="1.8"/><rect x="76" y="32.55" width="1" height="1.8"/><rect x="80" y="32.55" width="1" height="1.8"/><rect x="84" y="32.55" width="1" height="1.8"/><rect x="88" y="32.55" width="1" height="1.8"/><rect x="92" y="32.55" width="1" height="1.8"/><rect x="96" y="32.55" width="1" height="1.8"/><rect x="100" y="32.55" width="1" height="1.8"/><rect x="104" y="32.55" width="1" height="1.8"/><rect x="108" y="32.55" width="1" height="1.8"/><rect x="112" y="32.55" width="1" height="1.8"/><rect x="117" y="32.55" width="1" height="1.8"/><rect x="121" y="32.55" width="1" height="1.8"/><rect x="125" y="32.55" width="1" height="1.8"/><rect x="0" y="36.58" width="1" height="1.8"/><rect x="4" y="36.58" width="1" height="1.8"/><rect x="8" y="36.58" width="1" height="1.8"/><rect x="12" y="36.58" width="1" height="1.8"/><rect x="16" y="36.58" width="1" height="1.8"/><rect x="20" y="36.58" width="1" height="1.8"/><rect x="24" y="36.58" width="1" height="1.8"/><rect x="28" y="36.58" width="1" height="1.8"/><rect x="32" y="36.58" width="1" height="1.8"/><rect x="36" y="36.58" width="1" height="1.8"/><rect x="40" y="36.58" width="1" height="1.8"/><rect x="44" y="36.58" width="1" height="1.8"/><rect x="48" y="36.58" width="1" height="1.8"/><rect x="52" y="36.58" width="1" height="1.8"/><rect x="56" y="36.58" width="1" height="1.8"/><rect x="60" y="36.58" width="1" height="1.8"/><rect x="64" y="36.58" width="1" height="1.8"/><rect x="68" y="36.58" width="1" height="1.8"/><rect x="72" y="36.58" width="1" height="1.8"/><rect x="76" y="36.58" width="1" height="1.8"/><rect x="80" y="36.58" width="1" height="1.8"/><rect x="84" y="36.58" width="1" height="1.8"/><rect x="88" y="36.58" width="1" height="1.8"/><rect x="92" y="36.58" width="1" height="1.8"/><rect x="96" y="36.58" width="1" height="1.8"/><rect x="100" y="36.58" width="1" height="1.8"/><rect x="104" y="36.58" width="1" height="1.8"/><rect x="108" y="36.58" width="1" height="1.8"/><rect x="112" y="36.58" width="1" height="1.8"/><rect x="117" y="36.58" width="1" height="1.8"/><rect x="121" y="36.58" width="1" height="1.8"/><rect x="125" y="36.58" width="1" height="1.8"/><rect x="0" y="40.61" width="1" height="1.8"/><rect x="4" y="40.61" width="1" height="1.8"/><rect x="8" y="40.61" width="1" height="1.8"/><rect x="12" y="40.61" width="1" height="1.8"/><rect x="16" y="40.61" width="1" height="1.8"/><rect x="20" y="40.61" width="1" height="1.8"/><rect x="24" y="40.61" width="1" height="1.8"/><rect x="28" y="40.61" width="1" height="1.8"/><rect x="32" y="40.61" width="1" height="1.8"/><rect x="36" y="40.61" width="1" height="1.8"/><rect x="40" y="40.61" width="1" height="1.8"/><rect x="44" y="40.61" width="1" height="1.8"/><rect x="48" y="40.61" width="1" height="1.8"/><rect x="52" y="40.61" width="1" height="1.8"/><rect x="56" y="40.61" width="1" height="1.8"/><rect x="60" y="40.61" width="1" height="1.8"/><rect x="64" y="40.61" width="1" height="1.8"/><rect x="68" y="40.61" width="1" height="1.8"/><rect x="72" y="40.61" width="1" height="1.8"/><rect x="76" y="40.61" width="1" height="1.8"/><rect x="80" y="40.61" width="1" height="1.8"/><rect x="84" y="40.61" width="1" height="1.8"/><rect x="88" y="40.61" width="1" height="1.8"/><rect x="92" y="40.61" width="1" height="1.8"/><rect x="96" y="40.61" width="1" height="1.8"/><rect x="100" y="40.61" width="1" height="1.8"/><rect x="104" y="40.61" width="1" height="1.8"/><rect x="108" y="40.61" width="1" height="1.8"/><rect x="112" y="40.61" width="1" height="1.8"/><rect x="117" y="40.61" width="1" height="1.8"/><rect x="121" y="40.61" width="1" height="1.8"/><rect x="125" y="40.61" width="1" height="1.8"/><rect x="0" y="44.64" width="1" height="1.8"/><rect x="4" y="44.64" width="1" height="1.8"/><rect x="8" y="44.64" width="1" height="1.8"/><rect x="12" y="44.64" width="1" height="1.8"/><rect x="16" y="44.64" width="1" height="1.8"/><rect x="20" y="44.64" width="1" height="1.8"/><rect x="24" y="44.64" width="1" height="1.8"/><rect x="28" y="44.64" width="1" height="1.8"/><rect x="32" y="44.64" width="1" height="1.8"/><rect x="36" y="44.64" width="1" height="1.8"/><rect x="40" y="44.64" width="1" height="1.8"/><rect x="44" y="44.64" width="1" height="1.8"/><rect x="48" y="44.64" width="1" height="1.8"/><rect x="52" y="44.64" width="1" height="1.8"/><rect x="56" y="44.64" width="1" height="1.8"/><rect x="60" y="44.64" width="1" height="1.8"/><rect x="64" y="44.64" width="1" height="1.8"/><rect x="68" y="44.64" width="1" height="1.8"/><rect x="72" y="44.64" width="1" height="1.8"/><rect x="76" y="44.64" width="1" height="1.8"/><rect x="80" y="44.64" width="1" height="1.8"/><rect x="84" y="44.64" width="1" height="1.8"/><rect x="88" y="44.64" width="1" height="1.8"/><rect x="92" y="44.64" width="1" height="1.8"/><rect x="96" y="44.64" width="1" height="1.8"/><rect x="100" y="44.64" width="1" height="1.8"/><rect x="104" y="44.64" width="1" height="1.8"/><rect x="108" y="44.64" width="1" height="1.8"/><rect x="112" y="44.64" width="1" height="1.8"/><rect x="117" y="44.64" width="1" height="1.8"/><rect x="121" y="44.64" width="1" height="1.8"/><rect x="125" y="44.64" width="1" height="1.8"/><rect x="0" y="48.67" width="1" height="1.8"/><rect x="4" y="48.67" width="1" height="1.8"/><rect x="8" y="48.67" width="1" height="1.8"/><rect x="12" y="48.67" width="1" height="1.8"/><rect x="16" y="48.67" width="1" height="1.8"/><rect x="20" y="48.67" width="1" height="1.8"/><rect x="24" y="48.67" width="1" height="1.8"/><rect x="28" y="48.67" width="1" height="1.8"/><rect x="32" y="48.67" width="1" height="1.8"/><rect x="36" y="48.67" width="1" height="1.8"/><rect x="40" y="48.67" width="1" height="1.8"/><rect x="44" y="48.67" width="1" height="1.8"/><rect x="48" y="48.67" width="1" height="1.8"/><rect x="52" y="48.67" width="1" height="1.8"/><rect x="56" y="48.67" width="1" height="1.8"/><rect x="60" y="48.67" width="1" height="1.8"/><rect x="64" y="48.67" width="1" height="1.8"/><rect x="68" y="48.67" width="1" height="1.8"/><rect x="72" y="48.67" width="1" height="1.8"/><rect x="76" y="48.67" width="1" height="1.8"/><rect x="80" y="48.67" width="1" height="1.8"/><rect x="84" y="48.67" width="1" height="1.8"/><rect x="88" y="48.67" width="1" height="1.8"/><rect x="92" y="48.67" width="1" height="1.8"/><rect x="96" y="48.67" width="1" height="1.8"/><rect x="100" y="48.67" width="1" height="1.8"/><rect x="104" y="48.67" width="1" height="1.8"/><rect x="108" y="48.67" width="1" height="1.8"/><rect x="112" y="48.67" width="1" height="1.8"/><rect x="117" y="48.67" width="1" height="1.8"/><rect x="121" y="48.67" width="1" height="1.8"/><rect x="125" y="48.67" width="1" height="1.8"/><rect x="0" y="52.71" width="1" height="1.8"/><rect x="4" y="52.71" width="1" height="1.8"/><rect x="8" y="52.71" width="1" height="1.8"/><rect x="12" y="52.71" width="1" height="1.8"/><rect x="16" y="52.71" width="1" height="1.8"/><rect x="20" y="52.71" width="1" height="1.8"/><rect x="24" y="52.71" width="1" height="1.8"/><rect x="28" y="52.71" width="1" height="1.8"/><rect x="32" y="52.71" width="1" height="1.8"/><rect x="36" y="52.71" width="1" height="1.8"/><rect x="40" y="52.71" width="1" height="1.8"/><rect x="44" y="52.71" width="1" height="1.8"/><rect x="48" y="52.71" width="1" height="1.8"/><rect x="52" y="52.71" width="1" height="1.8"/><rect x="56" y="52.71" width="1" height="1.8"/><rect x="60" y="52.71" width="1" height="1.8"/><rect x="64" y="52.71" width="1" height="1.8"/><rect x="68" y="52.71" width="1" height="1.8"/><rect x="72" y="52.71" width="1" height="1.8"/><rect x="76" y="52.71" width="1" height="1.8"/><rect x="80" y="52.71" width="1" height="1.8"/><rect x="84" y="52.71" width="1" height="1.8"/><rect x="88" y="52.71" width="1" height="1.8"/><rect x="92" y="52.71" width="1" height="1.8"/><rect x="96" y="52.71" width="1" height="1.8"/><rect x="100" y="52.71" width="1" height="1.8"/><rect x="104" y="52.71" width="1" height="1.8"/><rect x="108" y="52.71" width="1" height="1.8"/><rect x="112" y="52.71" width="1" height="1.8"/><rect x="117" y="52.71" width="1" height="1.8"/><rect x="121" y="52.71" width="1" height="1.8"/><rect x="125" y="52.71" width="1" height="1.8"/><rect x="0" y="56.74" width="1" height="1.8"/><rect x="4" y="56.74" width="1" height="1.8"/><rect x="8" y="56.74" width="1" height="1.8"/><rect x="12" y="56.74" width="1" height="1.8"/><rect x="16" y="56.74" width="1" height="1.8"/><rect x="20" y="56.74" width="1" height="1.8"/><rect x="24" y="56.74" width="1" height="1.8"/><rect x="28" y="56.74" width="1" height="1.8"/><rect x="32" y="56.74" width="1" height="1.8"/><rect x="36" y="56.74" width="1" height="1.8"/><rect x="40" y="56.74" width="1" height="1.8"/><rect x="44" y="56.74" width="1" height="1.8"/><rect x="48" y="56.74" width="1" height="1.8"/><rect x="52" y="56.74" width="1" height="1.8"/><rect x="56" y="56.74" width="1" height="1.8"/><rect x="60" y="56.74" width="1" height="1.8"/><rect x="64" y="56.74" width="1" height="1.8"/><rect x="68" y="56.74" width="1" height="1.8"/><rect x="72" y="56.74" width="1" height="1.8"/><rect x="76" y="56.74" width="1" height="1.8"/><rect x="80" y="56.74" width="1" height="1.8"/><rect x="84" y="56.74" width="1" height="1.8"/><rect x="88" y="56.74" width="1" height="1.8"/><rect x="92" y="56.74" width="1" height="1.8"/><rect x="96" y="56.74" width="1" height="1.8"/><rect x="100" y="56.74" width="1" height="1.8"/><rect x="104" y="56.74" width="1" height="1.8"/><rect x="108" y="56.74" width="1" height="1.8"/><rect x="112" y="56.74" width="1" height="1.8"/><rect x="117" y="56.74" width="1" height="1.8"/><rect x="121" y="56.74" width="1" height="1.8"/><rect x="125" y="56.74" width="1" height="1.8"/><rect x="0" y="60.77" width="1" height="1.8"/><rect x="4" y="60.77" width="1" height="1.8"/><rect x="8" y="60.77" width="1" height="1.8"/><rect x="12" y="60.77" width="1" height="1.8"/><rect x="16" y="60.77" width="1" height="1.8"/><rect x="20" y="60.77" width="1" height="1.8"/><rect x="24" y="60.77" width="1" height="1.8"/><rect x="28" y="60.77" width="1" height="1.8"/><rect x="32" y="60.77" width="1" height="1.8"/><rect x="36" y="60.77" width="1" height="1.8"/><rect x="40" y="60.77" width="1" height="1.8"/><rect x="44" y="60.77" width="1" height="1.8"/><rect x="48" y="60.77" width="1" height="1.8"/><rect x="52" y="60.77" width="1" height="1.8"/><rect x="56" y="60.77" width="1" height="1.8"/><rect x="60" y="60.77" width="1" height="1.8"/><rect x="64" y="60.77" width="1" height="1.8"/><rect x="68" y="60.77" width="1" height="1.8"/><rect x="72" y="60.77" width="1" height="1.8"/><rect x="76" y="60.77" width="1" height="1.8"/><rect x="80" y="60.77" width="1" height="1.8"/><rect x="84" y="60.77" width="1" height="1.8"/><rect x="88" y="60.77" width="1" height="1.8"/><rect x="92" y="60.77" width="1" height="1.8"/><rect x="96" y="60.77" width="1" height="1.8"/><rect x="100" y="60.77" width="1" height="1.8"/><rect x="104" y="60.77" width="1" height="1.8"/><rect x="108" y="60.77" width="1" height="1.8"/><rect x="112" y="60.77" width="1" height="1.8"/><rect x="117" y="60.77" width="1" height="1.8"/><rect x="121" y="60.77" width="1" height="1.8"/><rect x="125" y="60.77" width="1" height="1.8"/><rect x="0" y="64.80" width="1" height="1.8"/><rect x="4" y="64.80" width="1" height="1.8"/><rect x="8" y="64.80" width="1" height="1.8"/><rect x="12" y="64.80" width="1" height="1.8"/><rect x="16" y="64.80" width="1" height="1.8"/><rect x="20" y="64.80" width="1" height="1.8"/><rect x="24" y="64.80" width="1" height="1.8"/><rect x="28" y="64.80" width="1" height="1.8"/><rect x="32" y="64.80" width="1" height="1.8"/><rect x="36" y="64.80" width="1" height="1.8"/><rect x="40" y="64.80" width="1" height="1.8"/><rect x="44" y="64.80" width="1" height="1.8"/><rect x="48" y="64.80" width="1" height="1.8"/><rect x="52" y="64.80" width="1" height="1.8"/><rect x="56" y="64.80" width="1" height="1.8"/><rect x="60" y="64.80" width="1" height="1.8"/><rect x="64" y="64.80" width="1" height="1.8"/><rect x="68" y="64.80" width="1" height="1.8"/><rect x="72" y="64.80" width="1" height="1.8"/><rect x="76" y="64.80" width="1" height="1.8"/><rect x="80" y="64.80" width="1" height="1.8"/><rect x="84" y="64.80" width="1" height="1.8"/><rect x="88" y="64.80" width="1" height="1.8"/><rect x="92" y="64.80" width="1" height="1.8"/><rect x="96" y="64.80" width="1" height="1.8"/><rect x="100" y="64.80" width="1" height="1.8"/><rect x="104" y="64.80" width="1" height="1.8"/><rect x="108" y="64.80" width="1" height="1.8"/><rect x="112" y="64.80" width="1" height="1.8"/><rect x="117" y="64.80" width="1" height="1.8"/><rect x="121" y="64.80" width="1" height="1.8"/><rect x="125" y="64.80" width="1" height="1.8"/><rect x="0" y="68.83" width="1" height="1.8"/><rect x="4" y="68.83" width="1" height="1.8"/><rect x="8" y="68.83" width="1" height="1.8"/><rect x="12" y="68.83" width="1" height="1.8"/><rect x="16" y="68.83" width="1" height="1.8"/><rect x="20" y="68.83" width="1" height="1.8"/><rect x="24" y="68.83" width="1" height="1.8"/><rect x="28" y="68.83" width="1" height="1.8"/><rect x="32" y="68.83" width="1" height="1.8"/><rect x="36" y="68.83" width="1" height="1.8"/><rect x="40" y="68.83" width="1" height="1.8"/><rect x="44" y="68.83" width="1" height="1.8"/><rect x="48" y="68.83" width="1" height="1.8"/><rect x="52" y="68.83" width="1" height="1.8"/><rect x="56" y="68.83" width="1" height="1.8"/><rect x="60" y="68.83" width="1" height="1.8"/><rect x="64" y="68.83" width="1" height="1.8"/><rect x="68" y="68.83" width="1" height="1.8"/><rect x="72" y="68.83" width="1" height="1.8"/><rect x="76" y="68.83" width="1" height="1.8"/><rect x="80" y="68.83" width="1" height="1.8"/><rect x="84" y="68.83" width="1" height="1.8"/><rect x="88" y="68.83" width="1" height="1.8"/><rect x="92" y="68.83" width="1" height="1.8"/><rect x="96" y="68.83" width="1" height="1.8"/><rect x="100" y="68.83" width="1" height="1.8"/><rect x="104" y="68.83" width="1" height="1.8"/><rect x="108" y="68.83" width="1" height="1.8"/><rect x="112" y="68.83" width="1" height="1.8"/><rect x="117" y="68.83" width="1" height="1.8"/><rect x="121" y="68.83" width="1" height="1.8"/><rect x="125" y="68.83" width="1" height="1.8"/><rect x="0" y="72.86" width="1" height="1.8"/><rect x="4" y="72.86" width="1" height="1.8"/><rect x="8" y="72.86" width="1" height="1.8"/><rect x="12" y="72.86" width="1" height="1.8"/><rect x="16" y="72.86" width="1" height="1.8"/><rect x="20" y="72.86" width="1" height="1.8"/><rect x="24" y="72.86" width="1" height="1.8"/><rect x="28" y="72.86" width="1" height="1.8"/><rect x="32" y="72.86" width="1" height="1.8"/><rect x="36" y="72.86" width="1" height="1.8"/><rect x="40" y="72.86" width="1" height="1.8"/><rect x="44" y="72.86" width="1" height="1.8"/><rect x="48" y="72.86" width="1" height="1.8"/><rect x="52" y="72.86" width="1" height="1.8"/><rect x="56" y="72.86" width="1" height="1.8"/><rect x="60" y="72.86" width="1" height="1.8"/><rect x="64" y="72.86" width="1" height="1.8"/><rect x="68" y="72.86" width="1" height="1.8"/><rect x="72" y="72.86" width="1" height="1.8"/><rect x="76" y="72.86" width="1" height="1.8"/><rect x="80" y="72.86" width="1" height="1.8"/><rect x="84" y="72.86" width="1" height="1.8"/><rect x="88" y="72.86" width="1" height="1.8"/><rect x="92" y="72.86" width="1" height="1.8"/><rect x="96" y="72.86" width="1" height="1.8"/><rect x="100" y="72.86" width="1" height="1.8"/><rect x="104" y="72.86" width="1" height="1.8"/><rect x="108" y="72.86" width="1" height="1.8"/><rect x="112" y="72.86" width="1" height="1.8"/><rect x="117" y="72.86" width="1" height="1.8"/><rect x="121" y="72.86" width="1" height="1.8"/><rect x="125" y="72.86" width="1" height="1.8"/><rect x="0" y="76.89" width="1" height="1.8"/><rect x="4" y="76.89" width="1" height="1.8"/><rect x="8" y="76.89" width="1" height="1.8"/><rect x="12" y="76.89" width="1" height="1.8"/><rect x="16" y="76.89" width="1" height="1.8"/><rect x="20" y="76.89" width="1" height="1.8"/><rect x="24" y="76.89" width="1" height="1.8"/><rect x="28" y="76.89" width="1" height="1.8"/><rect x="32" y="76.89" width="1" height="1.8"/><rect x="36" y="76.89" width="1" height="1.8"/><rect x="40" y="76.89" width="1" height="1.8"/><rect x="44" y="76.89" width="1" height="1.8"/><rect x="48" y="76.89" width="1" height="1.8"/><rect x="52" y="76.89" width="1" height="1.8"/><rect x="56" y="76.89" width="1" height="1.8"/><rect x="60" y="76.89" width="1" height="1.8"/><rect x="64" y="76.89" width="1" height="1.8"/><rect x="68" y="76.89" width="1" height="1.8"/><rect x="72" y="76.89" width="1" height="1.8"/><rect x="76" y="76.89" width="1" height="1.8"/><rect x="80" y="76.89" width="1" height="1.8"/><rect x="84" y="76.89" width="1" height="1.8"/><rect x="88" y="76.89" width="1" height="1.8"/><rect x="92" y="76.89" width="1" height="1.8"/><rect x="96" y="76.89" width="1" height="1.8"/><rect x="100" y="76.89" width="1" height="1.8"/><rect x="104" y="76.89" width="1" height="1.8"/><rect x="108" y="76.89" width="1" height="1.8"/><rect x="112" y="76.89" width="1" height="1.8"/><rect x="117" y="76.89" width="1" height="1.8"/><rect x="121" y="76.89" width="1" height="1.8"/><rect x="125" y="76.89" width="1" height="1.8"/><rect x="0" y="80.92" width="1" height="1.8"/><rect x="4" y="80.92" width="1" height="1.8"/><rect x="8" y="80.92" width="1" height="1.8"/><rect x="12" y="80.92" width="1" height="1.8"/><rect x="16" y="80.92" width="1" height="1.8"/><rect x="20" y="80.92" width="1" height="1.8"/><rect x="24" y="80.92" width="1" height="1.8"/><rect x="28" y="80.92" width="1" height="1.8"/><rect x="32" y="80.92" width="1" height="1.8"/><rect x="36" y="80.92" width="1" height="1.8"/><rect x="40" y="80.92" width="1" height="1.8"/><rect x="44" y="80.92" width="1" height="1.8"/><rect x="48" y="80.92" width="1" height="1.8"/><rect x="52" y="80.92" width="1" height="1.8"/><rect x="56" y="80.92" width="1" height="1.8"/><rect x="60" y="80.92" width="1" height="1.8"/><rect x="64" y="80.92" width="1" height="1.8"/><rect x="68" y="80.92" width="1" height="1.8"/><rect x="72" y="80.92" width="1" height="1.8"/><rect x="76" y="80.92" width="1" height="1.8"/><rect x="80" y="80.92" width="1" height="1.8"/><rect x="84" y="80.92" width="1" height="1.8"/><rect x="88" y="80.92" width="1" height="1.8"/><rect x="92" y="80.92" width="1" height="1.8"/><rect x="96" y="80.92" width="1" height="1.8"/><rect x="100" y="80.92" width="1" height="1.8"/><rect x="104" y="80.92" width="1" height="1.8"/><rect x="108" y="80.92" width="1" height="1.8"/><rect x="112" y="80.92" width="1" height="1.8"/><rect x="117" y="80.92" width="1" height="1.8"/><rect x="121" y="80.92" width="1" height="1.8"/><rect x="125" y="80.92" width="1" height="1.8"/><rect x="0" y="84.96" width="1" height="1.8"/><rect x="4" y="84.96" width="1" height="1.8"/><rect x="8" y="84.96" width="1" height="1.8"/><rect x="12" y="84.96" width="1" height="1.8"/><rect x="16" y="84.96" width="1" height="1.8"/><rect x="20" y="84.96" width="1" height="1.8"/><rect x="24" y="84.96" width="1" height="1.8"/><rect x="28" y="84.96" width="1" height="1.8"/><rect x="32" y="84.96" width="1" height="1.8"/><rect x="36" y="84.96" width="1" height="1.8"/><rect x="40" y="84.96" width="1" height="1.8"/><rect x="44" y="84.96" width="1" height="1.8"/><rect x="48" y="84.96" width="1" height="1.8"/><rect x="52" y="84.96" width="1" height="1.8"/><rect x="56" y="84.96" width="1" height="1.8"/><rect x="60" y="84.96" width="1" height="1.8"/><rect x="64" y="84.96" width="1" height="1.8"/><rect x="68" y="84.96" width="1" height="1.8"/><rect x="72" y="84.96" width="1" height="1.8"/><rect x="76" y="84.96" width="1" height="1.8"/><rect x="80" y="84.96" width="1" height="1.8"/><rect x="84" y="84.96" width="1" height="1.8"/><rect x="88" y="84.96" width="1" height="1.8"/><rect x="92" y="84.96" width="1" height="1.8"/><rect x="96" y="84.96" width="1" height="1.8"/><rect x="100" y="84.96" width="1" height="1.8"/><rect x="104" y="84.96" width="1" height="1.8"/><rect x="108" y="84.96" width="1" height="1.8"/><rect x="112" y="84.96" width="1" height="1.8"/><rect x="117" y="84.96" width="1" height="1.8"/><rect x="121" y="84.96" width="1" height="1.8"/><rect x="125" y="84.96" width="1" height="1.8"/><rect x="0" y="88.99" width="1" height="1.8"/><rect x="4" y="88.99" width="1" height="1.8"/><rect x="8" y="88.99" width="1" height="1.8"/><rect x="12" y="88.99" width="1" height="1.8"/><rect x="16" y="88.99" width="1" height="1.8"/><rect x="20" y="88.99" width="1" height="1.8"/><rect x="24" y="88.99" width="1" height="1.8"/><rect x="28" y="88.99" width="1" height="1.8"/><rect x="32" y="88.99" width="1" height="1.8"/><rect x="36" y="88.99" width="1" height="1.8"/><rect x="40" y="88.99" width="1" height="1.8"/><rect x="44" y="88.99" width="1" height="1.8"/><rect x="48" y="88.99" width="1" height="1.8"/><rect x="52" y="88.99" width="1" height="1.8"/><rect x="56" y="88.99" width="1" height="1.8"/><rect x="60" y="88.99" width="1" height="1.8"/><rect x="64" y="88.99" width="1" height="1.8"/><rect x="68" y="88.99" width="1" height="1.8"/><rect x="72" y="88.99" width="1" height="1.8"/><rect x="76" y="88.99" width="1" height="1.8"/><rect x="80" y="88.99" width="1" height="1.8"/><rect x="84" y="88.99" width="1" height="1.8"/><rect x="88" y="88.99" width="1" height="1.8"/><rect x="92" y="88.99" width="1" height="1.8"/><rect x="96" y="88.99" width="1" height="1.8"/><rect x="100" y="88.99" width="1" height="1.8"/><rect x="104" y="88.99" width="1" height="1.8"/><rect x="108" y="88.99" width="1" height="1.8"/><rect x="112" y="88.99" width="1" height="1.8"/><rect x="117" y="88.99" width="1" height="1.8"/><rect x="121" y="88.99" width="1" height="1.8"/><rect x="125" y="88.99" width="1" height="1.8"/><rect x="0" y="93.02" width="1" height="1.8"/><rect x="4" y="93.02" width="1" height="1.8"/><rect x="8" y="93.02" width="1" height="1.8"/><rect x="12" y="93.02" width="1" height="1.8"/><rect x="16" y="93.02" width="1" height="1.8"/><rect x="20" y="93.02" width="1" height="1.8"/><rect x="24" y="93.02" width="1" height="1.8"/><rect x="28" y="93.02" width="1" height="1.8"/><rect x="32" y="93.02" width="1" height="1.8"/><rect x="36" y="93.02" width="1" height="1.8"/><rect x="40" y="93.02" width="1" height="1.8"/><rect x="44" y="93.02" width="1" height="1.8"/><rect x="48" y="93.02" width="1" height="1.8"/><rect x="52" y="93.02" width="1" height="1.8"/><rect x="56" y="93.02" width="1" height="1.8"/><rect x="60" y="93.02" width="1" height="1.8"/><rect x="64" y="93.02" width="1" height="1.8"/><rect x="68" y="93.02" width="1" height="1.8"/><rect x="72" y="93.02" width="1" height="1.8"/><rect x="76" y="93.02" width="1" height="1.8"/><rect x="80" y="93.02" width="1" height="1.8"/><rect x="84" y="93.02" width="1" height="1.8"/><rect x="88" y="93.02" width="1" height="1.8"/><rect x="92" y="93.02" width="1" height="1.8"/><rect x="96" y="93.02" width="1" height="1.8"/><rect x="100" y="93.02" width="1" height="1.8"/><rect x="104" y="93.02" width="1" height="1.8"/><rect x="108" y="93.02" width="1" height="1.8"/><rect x="112" y="93.02" width="1" height="1.8"/><rect x="117" y="93.02" width="1" height="1.8"/><rect x="121" y="93.02" width="1" height="1.8"/><rect x="125" y="93.02" width="1" height="1.8"/><rect x="0" y="97.05" width="1" height="1.8"/><rect x="4" y="97.05" width="1" height="1.8"/><rect x="8" y="97.05" width="1" height="1.8"/><rect x="12" y="97.05" width="1" height="1.8"/><rect x="16" y="97.05" width="1" height="1.8"/><rect x="20" y="97.05" width="1" height="1.8"/><rect x="24" y="97.05" width="1" height="1.8"/><rect x="28" y="97.05" width="1" height="1.8"/><rect x="32" y="97.05" width="1" height="1.8"/><rect x="36" y="97.05" width="1" height="1.8"/><rect x="40" y="97.05" width="1" height="1.8"/><rect x="44" y="97.05" width="1" height="1.8"/><rect x="48" y="97.05" width="1" height="1.8"/><rect x="52" y="97.05" width="1" height="1.8"/><rect x="56" y="97.05" width="1" height="1.8"/><rect x="60" y="97.05" width="1" height="1.8"/><rect x="64" y="97.05" width="1" height="1.8"/><rect x="68" y="97.05" width="1" height="1.8"/><rect x="72" y="97.05" width="1" height="1.8"/><rect x="76" y="97.05" width="1" height="1.8"/><rect x="80" y="97.05" width="1" height="1.8"/><rect x="84" y="97.05" width="1" height="1.8"/><rect x="88" y="97.05" width="1" height="1.8"/><rect x="92" y="97.05" width="1" height="1.8"/><rect x="96" y="97.05" width="1" height="1.8"/><rect x="100" y="97.05" width="1" height="1.8"/><rect x="104" y="97.05" width="1" height="1.8"/><rect x="108" y="97.05" width="1" height="1.8"/><rect x="112" y="97.05" width="1" height="1.8"/><rect x="117" y="97.05" width="1" height="1.8"/><rect x="121" y="97.05" width="1" height="1.8"/><rect x="125" y="97.05" width="1" height="1.8"/><rect x="0" y="101.08" width="1" height="1.8"/><rect x="4" y="101.08" width="1" height="1.8"/><rect x="8" y="101.08" width="1" height="1.8"/><rect x="12" y="101.08" width="1" height="1.8"/><rect x="16" y="101.08" width="1" height="1.8"/><rect x="20" y="101.08" width="1" height="1.8"/><rect x="24" y="101.08" width="1" height="1.8"/><rect x="28" y="101.08" width="1" height="1.8"/><rect x="32" y="101.08" width="1" height="1.8"/><rect x="36" y="101.08" width="1" height="1.8"/><rect x="40" y="101.08" width="1" height="1.8"/><rect x="44" y="101.08" width="1" height="1.8"/><rect x="48" y="101.08" width="1" height="1.8"/><rect x="52" y="101.08" width="1" height="1.8"/><rect x="56" y="101.08" width="1" height="1.8"/><rect x="60" y="101.08" width="1" height="1.8"/><rect x="64" y="101.08" width="1" height="1.8"/><rect x="68" y="101.08" width="1" height="1.8"/><rect x="72" y="101.08" width="1" height="1.8"/><rect x="76" y="101.08" width="1" height="1.8"/><rect x="80" y="101.08" width="1" height="1.8"/><rect x="84" y="101.08" width="1" height="1.8"/><rect x="88" y="101.08" width="1" height="1.8"/><rect x="92" y="101.08" width="1" height="1.8"/><rect x="96" y="101.08" width="1" height="1.8"/><rect x="100" y="101.08" width="1" height="1.8"/><rect x="104" y="101.08" width="1" height="1.8"/><rect x="108" y="101.08" width="1" height="1.8"/><rect x="112" y="101.08" width="1" height="1.8"/><rect x="117" y="101.08" width="1" height="1.8"/><rect x="121" y="101.08" width="1" height="1.8"/><rect x="125" y="101.08" width="1" height="1.8"/><rect x="0" y="105.11" width="1" height="1.8"/><rect x="4" y="105.11" width="1" height="1.8"/><rect x="8" y="105.11" width="1" height="1.8"/><rect x="12" y="105.11" width="1" height="1.8"/><rect x="16" y="105.11" width="1" height="1.8"/><rect x="20" y="105.11" width="1" height="1.8"/><rect x="24" y="105.11" width="1" height="1.8"/><rect x="28" y="105.11" width="1" height="1.8"/><rect x="32" y="105.11" width="1" height="1.8"/><rect x="36" y="105.11" width="1" height="1.8"/><rect x="40" y="105.11" width="1" height="1.8"/><rect x="44" y="105.11" width="1" height="1.8"/><rect x="48" y="105.11" width="1" height="1.8"/><rect x="52" y="105.11" width="1" height="1.8"/><rect x="56" y="105.11" width="1" height="1.8"/><rect x="60" y="105.11" width="1" height="1.8"/><rect x="64" y="105.11" width="1" height="1.8"/><rect x="68" y="105.11" width="1" height="1.8"/><rect x="72" y="105.11" width="1" height="1.8"/><rect x="76" y="105.11" width="1" height="1.8"/><rect x="80" y="105.11" width="1" height="1.8"/><rect x="84" y="105.11" width="1" height="1.8"/><rect x="88" y="105.11" width="1" height="1.8"/><rect x="92" y="105.11" width="1" height="1.8"/><rect x="96" y="105.11" width="1" height="1.8"/><rect x="100" y="105.11" width="1" height="1.8"/><rect x="104" y="105.11" width="1" height="1.8"/><rect x="108" y="105.11" width="1" height="1.8"/><rect x="112" y="105.11" width="1" height="1.8"/><rect x="117" y="105.11" width="1" height="1.8"/><rect x="121" y="105.11" width="1" height="1.8"/><rect x="125" y="105.11" width="1" height="1.8"/><rect x="0" y="109.14" width="1" height="1.8"/><rect x="4" y="109.14" width="1" height="1.8"/><rect x="8" y="109.14" width="1" height="1.8"/><rect x="12" y="109.14" width="1" height="1.8"/><rect x="16" y="109.14" width="1" height="1.8"/><rect x="20" y="109.14" width="1" height="1.8"/><rect x="24" y="109.14" width="1" height="1.8"/><rect x="28" y="109.14" width="1" height="1.8"/><rect x="32" y="109.14" width="1" height="1.8"/><rect x="36" y="109.14" width="1" height="1.8"/><rect x="40" y="109.14" width="1" height="1.8"/><rect x="44" y="109.14" width="1" height="1.8"/><rect x="48" y="109.14" width="1" height="1.8"/><rect x="52" y="109.14" width="1" height="1.8"/><rect x="56" y="109.14" width="1" height="1.8"/><rect x="60" y="109.14" width="1" height="1.8"/><rect x="64" y="109.14" width="1" height="1.8"/><rect x="68" y="109.14" width="1" height="1.8"/><rect x="72" y="109.14" width="1" height="1.8"/><rect x="76" y="109.14" width="1" height="1.8"/><rect x="80" y="109.14" width="1" height="1.8"/><rect x="84" y="109.14" width="1" height="1.8"/><rect x="88" y="109.14" width="1" height="1.8"/><rect x="92" y="109.14" width="1" height="1.8"/><rect x="96" y="109.14" width="1" height="1.8"/><rect x="100" y="109.14" width="1" height="1.8"/><rect x="104" y="109.14" width="1" height="1.8"/><rect x="108" y="109.14" width="1" height="1.8"/><rect x="112" y="109.14" width="1" height="1.8"/><rect x="117" y="109.14" width="1" height="1.8"/><rect x="121" y="109.14" width="1" height="1.8"/><rect x="125" y="109.14" width="1" height="1.8"/><rect x="0" y="113.17" width="1" height="1.8"/><rect x="4" y="113.17" width="1" height="1.8"/><rect x="8" y="113.17" width="1" height="1.8"/><rect x="12" y="113.17" width="1" height="1.8"/><rect x="16" y="113.17" width="1" height="1.8"/><rect x="20" y="113.17" width="1" height="1.8"/><rect x="24" y="113.17" width="1" height="1.8"/><rect x="28" y="113.17" width="1" height="1.8"/><rect x="32" y="113.17" width="1" height="1.8"/><rect x="36" y="113.17" width="1" height="1.8"/><rect x="40" y="113.17" width="1" height="1.8"/><rect x="44" y="113.17" width="1" height="1.8"/><rect x="48" y="113.17" width="1" height="1.8"/><rect x="52" y="113.17" width="1" height="1.8"/><rect x="56" y="113.17" width="1" height="1.8"/><rect x="60" y="113.17" width="1" height="1.8"/><rect x="64" y="113.17" width="1" height="1.8"/><rect x="68" y="113.17" width="1" height="1.8"/><rect x="72" y="113.17" width="1" height="1.8"/><rect x="76" y="113.17" width="1" height="1.8"/><rect x="80" y="113.17" width="1" height="1.8"/><rect x="84" y="113.17" width="1" height="1.8"/><rect x="88" y="113.17" width="1" height="1.8"/><rect x="92" y="113.17" width="1" height="1.8"/><rect x="96" y="113.17" width="1" height="1.8"/><rect x="100" y="113.17" width="1" height="1.8"/><rect x="104" y="113.17" width="1" height="1.8"/><rect x="108" y="113.17" width="1" height="1.8"/><rect x="112" y="113.17" width="1" height="1.8"/><rect x="117" y="113.17" width="1" height="1.8"/><rect x="121" y="113.17" width="1" height="1.8"/><rect x="125" y="113.17" width="1" height="1.8"/><rect x="0" y="117.21" width="1" height="1.8"/><rect x="4" y="117.21" width="1" height="1.8"/><rect x="8" y="117.21" width="1" height="1.8"/><rect x="12" y="117.21" width="1" height="1.8"/><rect x="16" y="117.21" width="1" height="1.8"/><rect x="20" y="117.21" width="1" height="1.8"/><rect x="24" y="117.21" width="1" height="1.8"/><rect x="28" y="117.21" width="1" height="1.8"/><rect x="32" y="117.21" width="1" height="1.8"/><rect x="36" y="117.21" width="1" height="1.8"/><rect x="40" y="117.21" width="1" height="1.8"/><rect x="44" y="117.21" width="1" height="1.8"/><rect x="48" y="117.21" width="1" height="1.8"/><rect x="52" y="117.21" width="1" height="1.8"/><rect x="56" y="117.21" width="1" height="1.8"/><rect x="60" y="117.21" width="1" height="1.8"/><rect x="64" y="117.21" width="1" height="1.8"/><rect x="68" y="117.21" width="1" height="1.8"/><rect x="72" y="117.21" width="1" height="1.8"/><rect x="76" y="117.21" width="1" height="1.8"/><rect x="80" y="117.21" width="1" height="1.8"/><rect x="84" y="117.21" width="1" height="1.8"/><rect x="88" y="117.21" width="1" height="1.8"/><rect x="92" y="117.21" width="1" height="1.8"/><rect x="96" y="117.21" width="1" height="1.8"/><rect x="100" y="117.21" width="1" height="1.8"/><rect x="104" y="117.21" width="1" height="1.8"/><rect x="108" y="117.21" width="1" height="1.8"/><rect x="112" y="117.21" width="1" height="1.8"/><rect x="117" y="117.21" width="1" height="1.8"/><rect x="121" y="117.21" width="1" height="1.8"/><rect x="125" y="117.21" width="1" height="1.8"/><rect x="0" y="121.24" width="1" height="1.8"/><rect x="4" y="121.24" width="1" height="1.8"/><rect x="8" y="121.24" width="1" height="1.8"/><rect x="12" y="121.24" width="1" height="1.8"/><rect x="16" y="121.24" width="1" height="1.8"/><rect x="20" y="121.24" width="1" height="1.8"/><rect x="24" y="121.24" width="1" height="1.8"/><rect x="28" y="121.24" width="1" height="1.8"/><rect x="32" y="121.24" width="1" height="1.8"/><rect x="36" y="121.24" width="1" height="1.8"/><rect x="40" y="121.24" width="1" height="1.8"/><rect x="44" y="121.24" width="1" height="1.8"/><rect x="48" y="121.24" width="1" height="1.8"/><rect x="52" y="121.24" width="1" height="1.8"/><rect x="56" y="121.24" width="1" height="1.8"/><rect x="60" y="121.24" width="1" height="1.8"/><rect x="64" y="121.24" width="1" height="1.8"/><rect x="68" y="121.24" width="1" height="1.8"/><rect x="72" y="121.24" width="1" height="1.8"/><rect x="76" y="121.24" width="1" height="1.8"/><rect x="80" y="121.24" width="1" height="1.8"/><rect x="84" y="121.24" width="1" height="1.8"/><rect x="88" y="121.24" width="1" height="1.8"/><rect x="92" y="121.24" width="1" height="1.8"/><rect x="96" y="121.24" width="1" height="1.8"/><rect x="100" y="121.24" width="1" height="1.8"/><rect x="104" y="121.24" width="1" height="1.8"/><rect x="108" y="121.24" width="1" height="1.8"/><rect x="112" y="121.24" width="1" height="1.8"/><rect x="117" y="121.24" width="1" height="1.8"/><rect x="121" y="121.24" width="1" height="1.8"/><rect x="125" y="121.24" width="1" height="1.8"/><rect x="0" y="125.27" width="1" height="1.8"/><rect x="4" y="125.27" width="1" height="1.8"/><rect x="8" y="125.27" width="1" height="1.8"/><rect x="12" y="125.27" width="1" height="1.8"/><rect x="16" y="125.27" width="1" height="1.8"/><rect x="20" y="125.27" width="1" height="1.8"/><rect x="24" y="125.27" width="1" height="1.8"/><rect x="28" y="125.27" width="1" height="1.8"/><rect x="32" y="125.27" width="1" height="1.8"/><rect x="36" y="125.27" width="1" height="1.8"/><rect x="40" y="125.27" width="1" height="1.8"/><rect x="44" y="125.27" width="1" height="1.8"/><rect x="48" y="125.27" width="1" height="1.8"/><rect x="52" y="125.27" width="1" height="1.8"/><rect x="56" y="125.27" width="1" height="1.8"/><rect x="60" y="125.27" width="1" height="1.8"/><rect x="64" y="125.27" width="1" height="1.8"/><rect x="68" y="125.27" width="1" height="1.8"/><rect x="72" y="125.27" width="1" height="1.8"/><rect x="76" y="125.27" width="1" height="1.8"/><rect x="80" y="125.27" width="1" height="1.8"/><rect x="84" y="125.27" width="1" height="1.8"/><rect x="88" y="125.27" width="1" height="1.8"/><rect x="92" y="125.27" width="1" height="1.8"/><rect x="96" y="125.27" width="1" height="1.8"/><rect x="100" y="125.27" width="1" height="1.8"/><rect x="104" y="125.27" width="1" height="1.8"/><rect x="108" y="125.27" width="1" height="1.8"/><rect x="112" y="125.27" width="1" height="1.8"/><rect x="117" y="125.27" width="1" height="1.8"/><rect x="121" y="125.27" width="1" height="1.8"/><rect x="125" y="125.27" width="1" height="1.8"/></g></pattern></defs><rect width="633.7" height="393" fill="url(#dots)"/></svg>
<div style="position:absolute;left:166.3px;top:465px;width:633.7px;height:1px;background:#e6e6e6"></div>
<div style="position:absolute;left:166.3px;top:466px;width:633.7px;height:31px;background:#ececec"></div>
<svg style="position:absolute;left:0;top:0;font-family:'Liberation Sans',sans-serif" width="800" height="533"><defs>
<radialGradient id="redg" cx="40%" cy="35%" r="65%"><stop offset="0" stop-color="#ff6a7a"/><stop offset="0.5" stop-color="#d81830"/><stop offset="1" stop-color="#8a0818"/></radialGradient>
<radialGradient id="greeng" cx="50%" cy="50%" r="50%"><stop offset="0.62" stop-color="#3f9a3f"/><stop offset="0.8" stop-color="#5cb85c"/><stop offset="1" stop-color="#3a8e3a"/></radialGradient>
<radialGradient id="whiteg" cx="45%" cy="40%" r="60%"><stop offset="0" stop-color="#ffffff"/><stop offset="1" stop-color="#dcdcdc"/></radialGradient>
<linearGradient id="lboxg" x1="0" y1="0" x2="0" y2="1"><stop offset="0" stop-color="#fbfbfb"/><stop offset="0.7" stop-color="#f7f7f7"/><stop offset="1" stop-color="#e4e4e4"/></linearGradient>
<linearGradient id="offg" x1="0" y1="0" x2="0" y2="1"><stop offset="0" stop-color="#f4f4f4"/><stop offset="0.5" stop-color="#ffffff"/><stop offset="1" stop-color="#f0f0f0"/></linearGradient>
<linearGradient id="beigeg" x1="0" y1="0" x2="1" y2="0"><stop offset="0" stop-color="#c8c8b8"/><stop offset="0.3" stop-color="#e6e6da"/><stop offset="1" stop-color="#cfcfc0"/></linearGradient>
<linearGradient id="beigeg2" x1="0" y1="0" x2="0" y2="1"><stop offset="0" stop-color="#e8e8dc"/><stop offset="1" stop-color="#c4c4b4"/></linearGradient>
<linearGradient id="bowlg" x1="0" y1="0" x2="1" y2="0"><stop offset="0" stop-color="#d0d0c2"/><stop offset="0.35" stop-color="#ececE2"/><stop offset="0.7" stop-color="#e2e2d6"/><stop offset="1" stop-color="#c0c0b0"/></linearGradient>
<linearGradient id="cylg" x1="0" y1="0" x2="1" y2="0"><stop offset="0" stop-color="#999"/><stop offset="0.4" stop-color="#f4f4f4"/><stop offset="1" stop-color="#aaa"/></linearGradient>
<linearGradient id="tankg" x1="0" y1="0" x2="1" y2="0"><stop offset="0" stop-color="#5a5a5a"/><stop offset="0.08" stop-color="#9a9a9a"/><stop offset="0.22" stop-color="#e6e6e6"/><stop offset="0.36" stop-color="#ffffff"/><stop offset="0.52" stop-color="#eeeeee"/><stop offset="0.72" stop-color="#bdbdbd"/><stop offset="0.9" stop-color="#858585"/><stop offset="1" stop-color="#4a4a4a"/></linearGradient>
<linearGradient id="tankg2" x1="0" y1="0" x2="0" y2="1"><stop offset="0" stop-color="#ffffff" stop-opacity="0.2"/><stop offset="1" stop-color="#444"/></linearGradient>
<clipPath id="cvclip"><rect x="166.3" y="71.5" width="633.7" height="393"/></clipPath>
</defs><g clip-path="url(#cvclip)"><polyline points="193,208.1 308,208.1" fill="none" stroke="#def5da" stroke-width="7.4" stroke-linejoin="miter"/><polyline points="193,288 308,288" fill="none" stroke="#def5da" stroke-width="7.4" stroke-linejoin="miter"/><polyline points="326,288 393.9,288 393.9,350" fill="none" stroke="#def5da" stroke-width="7.4" stroke-linejoin="miter"/><polyline points="289.5,288 289.5,251.8 461.4,251.8" fill="none" stroke="#def5da" stroke-width="7.4" stroke-linejoin="miter"/><polyline points="193,208.1 308,208.1" fill="none" stroke="#5f9c62" stroke-width="5.2" stroke-linejoin="miter"/><polyline points="193,288 308,288" fill="none" stroke="#5f9c62" stroke-width="5.2" stroke-linejoin="miter"/><polyline points="326,288 393.9,288 393.9,350" fill="none" stroke="#5f9c62" stroke-width="5.2" stroke-linejoin="miter"/><polyline points="289.5,288 289.5,251.8 461.4,251.8" fill="none" stroke="#5f9c62" stroke-width="5.2" stroke-linejoin="miter"/><polyline points="193,208.1 308,208.1" fill="none" stroke="#c4f0bc" stroke-width="2.1" stroke-linejoin="miter"/><polyline points="193,288 308,288" fill="none" stroke="#c4f0bc" stroke-width="2.1" stroke-linejoin="miter"/><polyline points="326,288 393.9,288 393.9,350" fill="none" stroke="#c4f0bc" stroke-width="2.1" stroke-linejoin="miter"/><polyline points="289.5,288 289.5,251.8 461.4,251.8" fill="none" stroke="#c4f0bc" stroke-width="2.1" stroke-linejoin="miter"/><polyline points="478.3,252.2 599.3,252.2" fill="none" stroke="#eedcf0" stroke-width="7.4" stroke-linejoin="miter"/><polyline points="523.2,252.2 523.2,338.2 435.3,338.2" fill="none" stroke="#eedcf0" stroke-width="7.4" stroke-linejoin="miter"/><polyline points="599.3,202.5 599.3,278" fill="none" stroke="#eedcf0" stroke-width="7.4" stroke-linejoin="miter"/><polyline points="478.3,252.2 599.3,252.2" fill="none" stroke="#7e3f80" stroke-width="5.2" stroke-linejoin="miter"/><polyline points="523.2,252.2 523.2,338.2 435.3,338.2" fill="none" stroke="#7e3f80" stroke-width="5.2" stroke-linejoin="miter"/><polyline points="599.3,202.5 599.3,278" fill="none" stroke="#7e3f80" stroke-width="5.2" stroke-linejoin="miter"/><polyline points="478.3,252.2 599.3,252.2" fill="none" stroke="#f3b2f3" stroke-width="2.1" stroke-linejoin="miter"/><polyline points="523.2,252.2 523.2,338.2 435.3,338.2" fill="none" stroke="#f3b2f3" stroke-width="2.1" stroke-linejoin="miter"/><polyline points="599.3,202.5 599.3,278" fill="none" stroke="#f3b2f3" stroke-width="2.1" stroke-linejoin="miter"/><polyline points="192.5,135.3 308.5,135.3" fill="none" stroke="#f3e3d3" stroke-width="7.4" stroke-linejoin="miter"/><polyline points="325.5,135.3 418.6,135.3 418.6,309.5" fill="none" stroke="#f3e3d3" stroke-width="7.4" stroke-linejoin="miter"/><polyline points="325,208.1 366.6,208.1 366.6,135.3" fill="none" stroke="#f3e3d3" stroke-width="7.4" stroke-linejoin="miter"/><polyline points="429,323.3 437.3,323.3 437.3,135.3 800,135.3" fill="none" stroke="#f3e3d3" stroke-width="7.4" stroke-linejoin="miter"/><polyline points="599.3,135.3 599.3,183.8" fill="none" stroke="#f3e3d3" stroke-width="7.4" stroke-linejoin="miter"/><polyline points="600.4,335 600.4,376.6 800,376.6" fill="none" stroke="#f3e3d3" stroke-width="7.4" stroke-linejoin="miter"/><polyline points="192.5,135.3 308.5,135.3" fill="none" stroke="#7d654f" stroke-width="5.2" stroke-linejoin="miter"/><polyline points="325.5,135.3 418.6,135.3 418.6,309.5" fill="none" stroke="#7d654f" stroke-width="5.2" stroke-linejoin="miter"/><polyline points="325,208.1 366.6,208.1 366.6,135.3" fill="none" stroke="#7d654f" stroke-width="5.2" stroke-linejoin="miter"/><polyline points="429,323.3 437.3,323.3 437.3,135.3 800,135.3" fill="none" stroke="#7d654f" stroke-width="5.2" stroke-linejoin="miter"/><polyline points="599.3,135.3 599.3,183.8" fill="none" stroke="#7d654f" stroke-width="5.2" stroke-linejoin="miter"/><polyline points="600.4,335 600.4,376.6 800,376.6" fill="none" stroke="#7d654f" stroke-width="5.2" stroke-linejoin="miter"/><polyline points="192.5,135.3 308.5,135.3" fill="none" stroke="#fbefe4" stroke-width="2.1" stroke-linejoin="miter"/><polyline points="325.5,135.3 418.6,135.3 418.6,309.5" fill="none" stroke="#fbefe4" stroke-width="2.1" stroke-linejoin="miter"/><polyline points="325,208.1 366.6,208.1 366.6,135.3" fill="none" stroke="#fbefe4" stroke-width="2.1" stroke-linejoin="miter"/><polyline points="429,323.3 437.3,323.3 437.3,135.3 800,135.3" fill="none" stroke="#fbefe4" stroke-width="2.1" stroke-linejoin="miter"/><polyline points="599.3,135.3 599.3,183.8" fill="none" stroke="#fbefe4" stroke-width="2.1" stroke-linejoin="miter"/><polyline points="600.4,335 600.4,376.6 800,376.6" fill="none" stroke="#fbefe4" stroke-width="2.1" stroke-linejoin="miter"/><line x1="177" y1="135.1" x2="184" y2="135.1" stroke="#333" stroke-width="0.8"/><polygon points="182.7,130.5 192.8,135.1 182.7,139.7" fill="#000"/><line x1="177" y1="207.8" x2="184" y2="207.8" stroke="#333" stroke-width="0.8"/><polygon points="182.7,203.2 192.8,207.8 182.7,212.4" fill="#000"/><line x1="177" y1="287.8" x2="184" y2="287.8" stroke="#333" stroke-width="0.8"/><polygon points="182.7,283.2 192.8,287.8 182.7,292.4" fill="#000"/><text x="194" y="121.8" font-size="6.1" fill="#7a7a7a" text-anchor="start" font-weight="normal" dominant-baseline="central" style="white-space:pre">Product Feed / CIP</text><text x="194" y="195.3" font-size="6.15" fill="#7a7a7a" text-anchor="start" font-weight="normal" dominant-baseline="central" style="white-space:pre">Water / Buffer</text><text x="193.8" y="273.5" font-size="6.15" fill="#7a7a7a" text-anchor="start" font-weight="normal" dominant-baseline="central" style="white-space:pre">Operating Water Feed</text><text x="750" y="122.6" font-size="6.1" fill="#7a7a7a" text-anchor="start" font-weight="normal" dominant-baseline="central" style="white-space:pre">Supernatant Outlet</text><text x="785.5" y="365" font-size="6.1" fill="#7a7a7a" text-anchor="start" font-weight="normal" dominant-baseline="central" style="white-space:pre">To Se</text><polygon points="308.9,131.5 317,136.0 308.9,140.5" fill="#fff" stroke="#555" stroke-width="0.7"/><polygon points="325.1,131.5 317,136.0 325.1,140.5" fill="#fff" stroke="#555" stroke-width="0.7"/><line x1="317" y1="136.0" x2="317" y2="127.8" stroke="#555" stroke-width="0.7"/><rect x="310.9" y="121.9" width="12.6" height="6" rx="0.8" fill="#6c6c6c" stroke="#444" stroke-width="0.5"/><rect x="311.6" y="123.9" width="11.2" height="1.6" fill="#8a8a8a" /><rect x="312.5" y="113.4" width="8.4" height="7.4" rx="0.6" fill="#d4d4d4" stroke="#777" stroke-width="0.6"/><rect x="314.0" y="114.7" width="5.2" height="4.8" fill="#fff" stroke="#222" stroke-width="0.7"/><path d="M315.5,115.8 h2.2 M315.5,117.1 h1.8 M315.5,118.4 h2.2 M315.7,115.8 v2.6" stroke="#222" stroke-width="0.75" fill="none"/><text x="322.6" y="116.9" font-size="6.8" fill="#333" text-anchor="start" font-weight="normal" dominant-baseline="central" style="white-space:pre">C</text><rect x="303.7" y="149.5" width="7.6" height="11.4" fill="#f4f4f4" stroke="#ccc" stroke-width="0.5"/><rect x="303.7" y="149.5" width="7.6" height="1.4" fill="#111"/><rect x="306.7" y="152.9" width="1.6" height="5.4" fill="#222"/><rect x="306.7" y="155.7" width="1.6" height="0.8" fill="#eee"/><rect x="314.4" y="149.5" width="14.6" height="11.4" fill="#f4f4f4" stroke="#ccc" stroke-width="0.5"/><rect x="314.4" y="149.5" width="14.6" height="1.4" fill="#111"/><rect x="321.5" y="149.5" width="0.5" height="1.4" fill="#fff"/><line x1="318.1" y1="153.8" x2="318.1" y2="159.1" stroke="#111" stroke-width="1"/><polygon points="316.4,155.1 318.1,152.8 319.8,155.1" fill="#111"/><line x1="325.3" y1="153.0" x2="325.3" y2="158.3" stroke="#111" stroke-width="1"/><polygon points="323.6,157.1 325.3,159.4 327.0,157.1" fill="#111"/><polygon points="308.5,204.3 316.6,208.8 308.5,213.3" fill="#fff" stroke="#555" stroke-width="0.7"/><polygon points="324.7,204.3 316.6,208.8 324.7,213.3" fill="#fff" stroke="#555" stroke-width="0.7"/><line x1="316.6" y1="208.8" x2="316.6" y2="200.6" stroke="#555" stroke-width="0.7"/><rect x="310.5" y="194.7" width="12.6" height="6" rx="0.8" fill="#6c6c6c" stroke="#444" stroke-width="0.5"/><rect x="311.2" y="196.7" width="11.2" height="1.6" fill="#8a8a8a" /><rect x="312.1" y="186.2" width="8.4" height="7.4" rx="0.6" fill="#d4d4d4" stroke="#777" stroke-width="0.6"/><rect x="313.6" y="187.5" width="5.2" height="4.8" fill="#fff" stroke="#222" stroke-width="0.7"/><path d="M315.1,188.6 h2.2 M315.1,189.9 h1.8 M315.1,191.2 h2.2 M315.3,188.6 v2.6" stroke="#222" stroke-width="0.75" fill="none"/><text x="322.2" y="189.7" font-size="6.8" fill="#333" text-anchor="start" font-weight="normal" dominant-baseline="central" style="white-space:pre">C</text><rect x="303.3" y="222.3" width="7.6" height="11.4" fill="#f4f4f4" stroke="#ccc" stroke-width="0.5"/><rect x="303.3" y="222.3" width="7.6" height="1.4" fill="#111"/><rect x="306.3" y="225.7" width="1.6" height="5.4" fill="#222"/><rect x="306.3" y="228.5" width="1.6" height="0.8" fill="#eee"/><rect x="314.0" y="222.3" width="14.6" height="11.4" fill="#f4f4f4" stroke="#ccc" stroke-width="0.5"/><rect x="314.0" y="222.3" width="14.6" height="1.4" fill="#111"/><rect x="321.1" y="222.3" width="0.5" height="1.4" fill="#fff"/><line x1="317.7" y1="226.6" x2="317.7" y2="231.9" stroke="#111" stroke-width="1"/><polygon points="316.0,227.9 317.7,225.6 319.4,227.9" fill="#111"/><line x1="324.9" y1="225.8" x2="324.9" y2="231.1" stroke="#111" stroke-width="1"/><polygon points="323.2,229.9 324.9,232.2 326.6,229.9" fill="#111"/><polygon points="308.9,284.2 317,288.7 308.9,293.2" fill="#fff" stroke="#555" stroke-width="0.7"/><polygon points="325.1,284.2 317,288.7 325.1,293.2" fill="#fff" stroke="#555" stroke-width="0.7"/><line x1="317" y1="288.7" x2="317" y2="280.5" stroke="#555" stroke-width="0.7"/><rect x="310.9" y="274.6" width="12.6" height="6" rx="0.8" fill="#6c6c6c" stroke="#444" stroke-width="0.5"/><rect x="311.6" y="276.6" width="11.2" height="1.6" fill="#8a8a8a" /><rect x="312.5" y="266.1" width="8.4" height="7.4" rx="0.6" fill="#d4d4d4" stroke="#777" stroke-width="0.6"/><rect x="314.0" y="267.4" width="5.2" height="4.8" fill="#fff" stroke="#222" stroke-width="0.7"/><path d="M315.5,268.5 h2.2 M315.5,269.8 h1.8 M315.5,271.1 h2.2 M315.7,268.5 v2.6" stroke="#222" stroke-width="0.75" fill="none"/><text x="322.6" y="269.6" font-size="6.8" fill="#333" text-anchor="start" font-weight="normal" dominant-baseline="central" style="white-space:pre">C</text><rect x="303.7" y="302.2" width="7.6" height="11.4" fill="#f4f4f4" stroke="#ccc" stroke-width="0.5"/><rect x="303.7" y="302.2" width="7.6" height="1.4" fill="#111"/><rect x="306.7" y="305.6" width="1.6" height="5.4" fill="#222"/><rect x="306.7" y="308.4" width="1.6" height="0.8" fill="#eee"/><rect x="314.4" y="302.2" width="14.6" height="11.4" fill="#f4f4f4" stroke="#ccc" stroke-width="0.5"/><rect x="314.4" y="302.2" width="14.6" height="1.4" fill="#111"/><rect x="321.5" y="302.2" width="0.5" height="1.4" fill="#fff"/><line x1="318.1" y1="306.5" x2="318.1" y2="311.8" stroke="#111" stroke-width="1"/><polygon points="316.4,307.8 318.1,305.5 319.8,307.8" fill="#111"/><line x1="325.3" y1="305.7" x2="325.3" y2="311.0" stroke="#111" stroke-width="1"/><polygon points="323.6,309.8 325.3,312.1 327.0,309.8" fill="#111"/><polygon points="461.8,248.1 469.9,252.6 461.8,257.1" fill="#fff" stroke="#555" stroke-width="0.7"/><polygon points="478.0,248.1 469.9,252.6 478.0,257.1" fill="#fff" stroke="#555" stroke-width="0.7"/><line x1="469.9" y1="252.6" x2="469.9" y2="244.4" stroke="#555" stroke-width="0.7"/><rect x="463.8" y="238.5" width="12.6" height="6" rx="0.8" fill="#6c6c6c" stroke="#444" stroke-width="0.5"/><rect x="464.5" y="240.5" width="11.2" height="1.6" fill="#8a8a8a" /><rect x="465.4" y="230.0" width="8.4" height="7.4" rx="0.6" fill="#d4d4d4" stroke="#777" stroke-width="0.6"/><rect x="466.9" y="231.3" width="5.2" height="4.8" fill="#fff" stroke="#222" stroke-width="0.7"/><path d="M468.4,232.4 h2.2 M468.4,233.7 h1.8 M468.4,235.0 h2.2 M468.6,232.4 v2.6" stroke="#222" stroke-width="0.75" fill="none"/><path d="M476.9,230.3 A2.8,2.8 0 0 0 476.9,235.9" fill="none" stroke="#444" stroke-width="0.9"/><polygon points="477.1,230.5 480.3,233.1 477.1,235.7" fill="#fff" stroke="#444" stroke-width="0.8"/><rect x="456.6" y="266.1" width="7.6" height="11.4" fill="#f4f4f4" stroke="#ccc" stroke-width="0.5"/><rect x="456.6" y="266.1" width="7.6" height="1.4" fill="#111"/><rect x="459.6" y="269.5" width="1.6" height="5.4" fill="#222"/><rect x="459.6" y="272.3" width="1.6" height="0.8" fill="#eee"/><rect x="467.3" y="266.1" width="14.6" height="11.4" fill="#f4f4f4" stroke="#ccc" stroke-width="0.5"/><rect x="467.3" y="266.1" width="14.6" height="1.4" fill="#111"/><rect x="474.4" y="266.1" width="0.5" height="1.4" fill="#fff"/><line x1="471" y1="270.4" x2="471" y2="275.7" stroke="#111" stroke-width="1"/><polygon points="469.3,271.7 471,269.4 472.7,271.7" fill="#111"/><line x1="478.2" y1="269.6" x2="478.2" y2="274.9" stroke="#111" stroke-width="1"/><polygon points="476.5,273.7 478.2,276.0 479.9,273.7" fill="#111"/><polygon points="594.3,183.8 599.3,193.2 604.3,183.8" fill="#fff" stroke="#555" stroke-width="0.7"/><polygon points="594.3,202.6 599.3,193.2 604.3,202.6" fill="#fff" stroke="#555" stroke-width="0.7"/><polygon points="262.4,294.7 271.4,294.7 269.9,292.2 263.9,292.2" fill="#fff" stroke="#555" stroke-width="0.6"/><circle cx="266.9" cy="287.7" r="5.7" fill="#fff" stroke="#555" stroke-width="0.7"/><rect x="259.9" y="296.9" width="8.4" height="7.4" rx="0.6" fill="#d4d4d4" stroke="#777" stroke-width="0.6"/><rect x="261.4" y="298.2" width="5.2" height="4.8" fill="#fff" stroke="#222" stroke-width="0.7"/><path d="M262.9,299.3 h2.2 M262.9,300.6 h1.8 M262.9,301.9 h2.2 M263.1,299.3 v2.6" stroke="#222" stroke-width="0.75" fill="none"/><text x="269.3" y="300.6" font-size="6.8" fill="#333" text-anchor="start" font-weight="normal" dominant-baseline="central" style="white-space:pre">C</text><rect x="263.8" y="306.7" width="7.4" height="12.6" fill="#f4f4f4" stroke="#ccc" stroke-width="0.5"/><rect x="263.8" y="306.7" width="7.4" height="1.4" fill="#111"/><rect x="266.7" y="310.7" width="1.6" height="5.6" fill="#222"/><rect x="266.7" y="313.5" width="1.6" height="0.8" fill="#eee"/><polygon points="681.5,383.5 690.5,383.5 689,381.0 683,381.0" fill="#fff" stroke="#555" stroke-width="0.6"/><circle cx="686" cy="376.5" r="5.7" fill="#fff" stroke="#555" stroke-width="0.7"/><rect x="679" y="385.7" width="8.4" height="7.4" rx="0.6" fill="#d4d4d4" stroke="#777" stroke-width="0.6"/><rect x="680.5" y="387.0" width="5.2" height="4.8" fill="#fff" stroke="#222" stroke-width="0.7"/><path d="M682,388.1 h2.2 M682,389.4 h1.8 M682,390.7 h2.2 M682.2,388.1 v2.6" stroke="#222" stroke-width="0.75" fill="none"/><text x="688.4" y="389.4" font-size="6.8" fill="#333" text-anchor="start" font-weight="normal" dominant-baseline="central" style="white-space:pre">C</text><rect x="682.9" y="395.5" width="7.4" height="12.6" fill="#f4f4f4" stroke="#ccc" stroke-width="0.5"/><rect x="682.9" y="395.5" width="7.4" height="1.4" fill="#111"/><rect x="685.8" y="399.5" width="1.6" height="5.6" fill="#222"/><rect x="685.8" y="402.3" width="1.6" height="0.8" fill="#eee"/><circle cx="264.5" cy="135.3" r="9.6" fill="url(#greeng)" stroke="#2f7a2f" stroke-width="0.7"/><circle cx="264.5" cy="135.3" r="6.14" fill="#fbfbfb" stroke="#3d8a3d" stroke-width="0.6"/><text x="264.5" y="135.7" font-size="7.49" fill="#5a3c50" text-anchor="middle" dominant-baseline="central">M</text><circle cx="272.7" cy="128.4" r="3.9" fill="url(#redg)" stroke="#8a1020" stroke-width="0.5"/><rect x="271.3" y="127.95" width="2.8" height="0.9" fill="#fff" opacity="0.9"/><text x="262" y="154.3" font-size="8.0" fill="#8c8c8c" text-anchor="start" font-weight="normal" dominant-baseline="central" style="white-space:pre">0 %</text><circle cx="281" cy="148.6" r="3.9" fill="url(#redg)" stroke="#8a1020" stroke-width="0.5"/><rect x="279.6" y="148.15" width="2.8" height="0.9" fill="#fff" opacity="0.9"/><rect x="508" y="105" width="24" height="18.6" rx="1.5" fill="#000"/><ellipse cx="519.8" cy="114.2" rx="11.4" ry="8.6" fill="#f3f3ec" stroke="#8a8a8a" stroke-width="1.3"/><rect x="516.5" y="123" width="6.3" height="5.8" fill="#f0f0e8" stroke="#777" stroke-width="0.6"/><rect x="510" y="128.7" width="19.1" height="12.6" fill="#e6e6da" stroke="#666" stroke-width="0.6"/><rect x="516.5" y="128.7" width="6.3" height="12.6" fill="#f2f2ea" stroke="#666" stroke-width="0.6"/><circle cx="519.7" cy="133.7" r="0.9" fill="#333"/><circle cx="519.7" cy="136.3" r="0.9" fill="#333"/><rect x="681" y="104.5" width="24" height="18.6" rx="1.5" fill="#000"/><ellipse cx="692.8" cy="113.7" rx="11.4" ry="8.6" fill="#f3f3ec" stroke="#8a8a8a" stroke-width="1.3"/><rect x="689.5" y="122.5" width="6.3" height="5.8" fill="#f0f0e8" stroke="#777" stroke-width="0.6"/><rect x="683" y="128.2" width="19.1" height="12.6" fill="#e6e6da" stroke="#666" stroke-width="0.6"/><rect x="689.5" y="128.2" width="6.3" height="12.6" fill="#f2f2ea" stroke="#666" stroke-width="0.6"/><circle cx="692.7" cy="133.2" r="0.9" fill="#333"/><circle cx="692.7" cy="135.8" r="0.9" fill="#333"/><rect x="486" y="146.5" width="74" height="13.5" fill="url(#lboxg)"/><text x="489.2" y="153.45" font-size="6.4" fill="#555" text-anchor="start" font-weight="normal" dominant-baseline="central" style="white-space:pre">Flowrate:  0 l/h</text><rect x="656" y="146.8" width="73" height="13.2" fill="url(#lboxg)"/><text x="659" y="153.6" font-size="6.4" fill="#555" text-anchor="start" font-weight="normal" dominant-baseline="central" style="white-space:pre">Turbidity:  0.00 Cu</text><rect x="389.6" y="85" width="74.9" height="16.2" rx="6" fill="#fff" stroke="#333" stroke-width="1.1"/><rect x="391.6" y="87" width="70.9" height="12.2" rx="4.5" fill="url(#offg)" stroke="#3a3a3a" stroke-width="1"/><text x="395.4" y="93" font-size="7.0" fill="#7a7a7a" text-anchor="start" font-weight="normal" dominant-baseline="central" style="white-space:pre">Off</text><rect x="449.8" y="89" width="9.2" height="8.6" rx="1" fill="#505050"/><circle cx="455.6" cy="86" r="3.9" fill="url(#redg)" stroke="#8a1020" stroke-width="0.5"/><rect x="454.2" y="85.55" width="2.8" height="0.9" fill="#fff" opacity="0.9"/><rect x="669.1" y="220.3" width="48.2" height="12.2" fill="#545454" stroke="#3a3a3a" stroke-width="0.5"/><text x="693.2" y="226.4" font-size="6" fill="#fff" font-weight="bold" text-anchor="middle" dominant-baseline="central">Startup</text><rect x="721.3" y="220.3" width="48.2" height="12.2" fill="#545454" stroke="#3a3a3a" stroke-width="0.5"/><text x="745.4" y="226.4" font-size="6" fill="#fff" font-weight="bold" text-anchor="middle" dominant-baseline="central">Production</text><rect x="773.8" y="220.3" width="48.2" height="12.2" fill="#545454" stroke="#3a3a3a" stroke-width="0.5"/><text x="776.4" y="226.4" font-size="6" fill="#fff" font-weight="bold" text-anchor="start" dominant-baseline="central">Partial Empty</text><text x="669.6" y="252.7" font-size="6.4" fill="#6a6a6a" text-anchor="start" font-weight="normal" dominant-baseline="central" style="white-space:pre">Current Status:</text><text x="719.5" y="252.7" font-size="6.9" fill="#6a6a6a" text-anchor="start" font-weight="normal" dominant-baseline="central" style="white-space:pre">Idle</text><text x="669.6" y="268.4" font-size="6.3" fill="#6a6a6a" text-anchor="start" font-weight="normal" dominant-baseline="central" style="white-space:pre">Substatus:</text><text x="669.6" y="285" font-size="6.6" fill="#6a6a6a" text-anchor="start" font-weight="normal" dominant-baseline="central" style="white-space:pre">More Info:</text><text x="283.2" y="346.3" font-size="7.85" fill="#606060" text-anchor="start" font-weight="normal" dominant-baseline="central" style="white-space:pre">In Operation:</text><circle cx="343.3" cy="346.3" r="3.5" fill="#fdfdfd" stroke="#bdbdbd" stroke-width="1.7"/><text x="283.2" y="366" font-size="7.85" fill="#606060" text-anchor="start" font-weight="normal" dominant-baseline="central" style="white-space:pre">Faults</text><text x="283.2" y="378.6" font-size="7.85" fill="#606060" text-anchor="start" font-weight="normal" dominant-baseline="central" style="white-space:pre">Motor Startup:</text><circle cx="343.3" cy="378.6" r="3.5" fill="#fdfdfd" stroke="#bdbdbd" stroke-width="1.7"/><text x="283.2" y="390.6" font-size="7.85" fill="#606060" text-anchor="start" font-weight="normal" dominant-baseline="central" style="white-space:pre">Overspeed:</text><circle cx="343.3" cy="390.6" r="3.5" fill="#fdfdfd" stroke="#bdbdbd" stroke-width="1.7"/><text x="283.2" y="402.5" font-size="7.85" fill="#606060" text-anchor="start" font-weight="normal" dominant-baseline="central" style="white-space:pre">Underspeed:</text><circle cx="343.3" cy="402.5" r="3.5" fill="#fdfdfd" stroke="#bdbdbd" stroke-width="1.7"/><text x="465" y="387.7" font-size="7.4" fill="#6e6e6e" text-anchor="start" font-weight="normal" dominant-baseline="central" style="white-space:pre">Speed</text><text x="498.5" y="387.7" font-size="7.4" fill="#6e6e6e" text-anchor="start" font-weight="normal" dominant-baseline="central" style="white-space:pre">0</text><text x="536" y="387.7" font-size="7.4" fill="#6e6e6e" text-anchor="start" font-weight="normal" dominant-baseline="central" style="white-space:pre">RPM</text><text x="465" y="403.2" font-size="7.7" fill="#6e6e6e" text-anchor="start" font-weight="normal" dominant-baseline="central" style="white-space:pre">Target</text><text x="498.5" y="403.2" font-size="7.4" fill="#6e6e6e" text-anchor="start" font-weight="normal" dominant-baseline="central" style="white-space:pre">0</text><text x="536" y="403.2" font-size="7.4" fill="#6e6e6e" text-anchor="start" font-weight="normal" dominant-baseline="central" style="white-space:pre">RPM</text><polygon points="357,409.3 438.8,409.3 432,398 365,398" fill="#f2f2ea" stroke="#1a1a1a" stroke-width="1"/><rect x="360" y="404.5" width="76" height="4.8" fill="#2a2a2a"/><rect x="369.6" y="390" width="8.3" height="16" fill="url(#cylg)" stroke="#1a1a1a" stroke-width="0.8"/><rect x="418" y="390" width="6.4" height="16" fill="url(#cylg)" stroke="#1a1a1a" stroke-width="0.8"/><rect x="377" y="392" width="42" height="3" fill="#3a3a3a"/><rect x="350.5" y="344" width="8" height="27" fill="url(#beigeg)" stroke="#1a1a1a" stroke-width="0.8"/><rect x="357.9" y="313.7" width="29.3" height="59.5" fill="url(#beigeg)" stroke="#1a1a1a" stroke-width="1"/><rect x="358.4" y="314.2" width="28.3" height="4" fill="#e8e8dc"/><rect x="355" y="375" width="83.8" height="16.8" fill="url(#beigeg2)" stroke="#1a1a1a" stroke-width="1"/><path d="M 374,391.8 L 374,380 L 386,378 L 408,378 L 408,391.8 Z" fill="#e4e4d8" stroke="#1a1a1a" stroke-width="0.7"/><rect x="408" y="381" width="22" height="10.8" fill="#dcdcd0" stroke="#1a1a1a" stroke-width="0.7"/><rect x="438" y="377" width="5" height="9" fill="#cfcfc2" stroke="#1a1a1a" stroke-width="0.6"/><rect x="443" y="374.2" width="15.5" height="12.4" fill="url(#beigeg)" stroke="#1a1a1a" stroke-width="0.9"/><path d="M 409.8,327.4 Q 412,325.8 415,325.9 L 428.5,326 L 445,353.5 L 445,375 L 391.3,375 L 391.3,353.5 Z" fill="url(#bowlg)" stroke="#1a1a1a" stroke-width="1"/><path d="M 428.5,326 L 445,353.5" stroke="#1a1a1a" stroke-width="0.8" fill="none" transform="translate(1.4,0)"/><line x1="391.3" y1="353.5" x2="445" y2="353.5" stroke="#b8b8aa" stroke-width="0.8"/><line x1="391.3" y1="357" x2="445" y2="357" stroke="#c8c8bc" stroke-width="0.6"/><path d="M 418.4,362 q -1.6,1.6 -1.6,2.6 a 1.6,1.6 0 0 0 3.2,0 q 0,-1 -1.6,-2.6 z" fill="none" stroke="#777" stroke-width="0.5"/><circle cx="413.5" cy="330.5" r="0.9" fill="#999"/><rect x="415.4" y="309" width="5.2" height="12.8" fill="#fafaf6" stroke="#1a1a1a" stroke-width="0.8"/><rect x="415.4" y="321.8" width="13.9" height="4.1" rx="0.8" fill="#f2f2ea" stroke="#1a1a1a" stroke-width="0.8"/><circle cx="372.4" cy="339.4" r="9.4" fill="url(#greeng)" stroke="#2f7a2f" stroke-width="0.7"/><circle cx="372.4" cy="339.4" r="6.02" fill="#fbfbfb" stroke="#3d8a3d" stroke-width="0.6"/><text x="372.4" y="339.8" font-size="7.33" fill="#5a3c50" text-anchor="middle" dominant-baseline="central">M</text><circle cx="380.6" cy="331.9" r="3.4" fill="url(#redg)" stroke="#8a1020" stroke-width="0.5"/><rect x="379.2" y="331.45" width="2.8" height="0.9" fill="#fff" opacity="0.9"/><text x="370" y="357.6" font-size="8.0" fill="#8c8c8c" text-anchor="start" font-weight="normal" dominant-baseline="central" style="white-space:pre">0 %</text><circle cx="388.2" cy="352.5" r="3.4" fill="url(#redg)" stroke="#8a1020" stroke-width="0.5"/><rect x="386.8" y="352.05" width="2.8" height="0.9" fill="#fff" opacity="0.9"/><path d="M 579,278.5 Q 590,272.5 600,272.3 Q 610,272.5 621.7,278.5 L 621.7,314.5 L 600.5,335.5 L 579,314.5 Z" fill="url(#tankg)" stroke="#888" stroke-width="0.4"/><path d="M 579,314.5 L 600.5,335.5 L 621.7,314.5 Z" fill="url(#tankg2)" opacity="0.55"/><path d="M 579,278.5 Q 600,271 621.7,278.5 L 621.7,280 Q 600,274 579,280 Z" fill="#999" opacity="0.5"/><rect x="595.3" y="283.5" width="12.2" height="12.2" rx="2.8" fill="#fafafa" stroke="#1a1a1a" stroke-width="0.9"/><rect x="597.1" y="285.3" width="8.6" height="8.6" rx="1.6" fill="#fff" stroke="#1a1a1a" stroke-width="0.9"/><circle cx="606.5" cy="283.8" r="3.4" fill="url(#redg)" stroke="#8a1020" stroke-width="0.5"/><rect x="605.1" y="283.35" width="2.8" height="0.9" fill="#fff" opacity="0.9"/><rect x="595.3" y="308.2" width="12.2" height="12.2" rx="2.8" fill="#fafafa" stroke="#1a1a1a" stroke-width="0.9"/><rect x="597.1" y="310.0" width="8.6" height="8.6" rx="1.6" fill="#fff" stroke="#1a1a1a" stroke-width="0.9"/><circle cx="606.5" cy="308.5" r="3.4" fill="url(#redg)" stroke="#8a1020" stroke-width="0.5"/><rect x="605.1" y="308.05" width="2.8" height="0.9" fill="#fff" opacity="0.9"/></g></svg>
<div style="position:absolute;left:0px;top:497px;width:800px;height:2.8px;background:#fbfbfb"></div>
<div style="position:absolute;left:0px;top:499.8px;width:800px;height:7.2px;background:#dddddd"></div>
<div style="position:absolute;left:3px;top:498.8px;height:9.2px;line-height:9.2px;font-size:4.6px;color:#333;white-space:pre;">Output</div>
<div style="position:absolute;left:0px;top:507px;width:800px;height:11.5px;background:#eeeeee"></div>
<div style="position:absolute;left:3px;top:508px;height:10px;line-height:10px;font-size:5px;color:#333;white-space:pre;-webkit-text-stroke:0.1px #333">Debug</div>
<div style="position:absolute;left:27.6px;top:508.8px;height:8.4px;line-height:8.4px;font-size:4.2px;color:#444;white-space:pre;">▾</div>
<div style="position:absolute;left:33.3px;top:508.5px;width:0.6px;height:8.5px;background:#d8d8d8"></div>
<div style="position:absolute;left:35.6px;top:508px;height:10px;line-height:10px;font-size:5px;color:#666;white-space:pre;">⥀</div>
<div style="position:absolute;left:44px;top:510.6px;width:4.6px;height:4.6px;background:#777;clip-path:polygon(0 0,100% 0,100% 30%,60% 30%,60% 100%,0 100%)"></div>
<div style="position:absolute;left:0px;top:518.5px;width:800px;height:2.5px;background:#dcdcdc"></div>
<div style="position:absolute;left:0px;top:521px;width:800px;height:12px;background:#fafafa"></div>
<div style="position:absolute;left:0px;top:519.5px;width:800px;height:1px;background:#e4e4e4"></div>
<div style="position:absolute;left:0.5px;top:521.8px;width:26.5px;height:10px;background:#fdfdfd;border:0.5px solid #d4d4d4;border-top:none"></div>
<div style="position:absolute;left:2.4px;top:524.6px;width:4.6px;height:4.6px;border:0.8px solid #555;border-radius:50%;border-right-color:transparent"></div>
<div style="position:absolute;left:9.5px;top:522.2px;height:9.8px;line-height:9.8px;font-size:4.9px;color:#222;white-space:pre;">Output</div>
<div style="position:absolute;left:29.5px;top:521.8px;width:37px;height:10px;background:#ebebeb;border-right:0.5px solid #d0d0d0"></div>
<div style="position:absolute;left:31.1px;top:524.6px;width:4.6px;height:4.6px;border:0.7px solid #555;border-radius:50%"></div>
<div style="position:absolute;left:37px;top:522.2px;height:9.8px;line-height:9.8px;font-size:4.9px;color:#333;white-space:pre;">Message Log</div>
<div style="position:absolute;left:69.5px;top:521.8px;width:39px;height:10px;background:#ebebeb;border-right:0.5px solid #d0d0d0"></div>
<div style="position:absolute;left:71.1px;top:524.6px;width:4.6px;height:4.6px;border:0.7px solid #555;border-radius:50%"></div>
<div style="position:absolute;left:77px;top:522.2px;height:9.8px;line-height:9.8px;font-size:4.9px;color:#333;white-space:pre;">Watch Trend</div>
<div style="position:absolute;left:109.5px;top:521.8px;width:29.5px;height:10px;background:#ebebeb;border-right:0.5px solid #d0d0d0"></div>
<div style="position:absolute;left:111.1px;top:524.6px;width:4.6px;height:4.6px;border:0.7px solid #555;border-radius:50%"></div>
<div style="position:absolute;left:117px;top:522.2px;height:9.8px;line-height:9.8px;font-size:4.9px;color:#333;white-space:pre;">Log View</div>
<div style="position:absolute;left:140px;top:521.8px;width:41px;height:10px;background:#ebebeb;border-right:0.5px solid #d0d0d0"></div>
<div style="position:absolute;left:141.6px;top:524.6px;width:4.6px;height:4.6px;border:0.7px solid #555;border-radius:50%"></div>
<div style="position:absolute;left:147.5px;top:522.2px;height:9.8px;line-height:9.8px;font-size:4.9px;color:#333;white-space:pre;">Search Results</div></body></html>
